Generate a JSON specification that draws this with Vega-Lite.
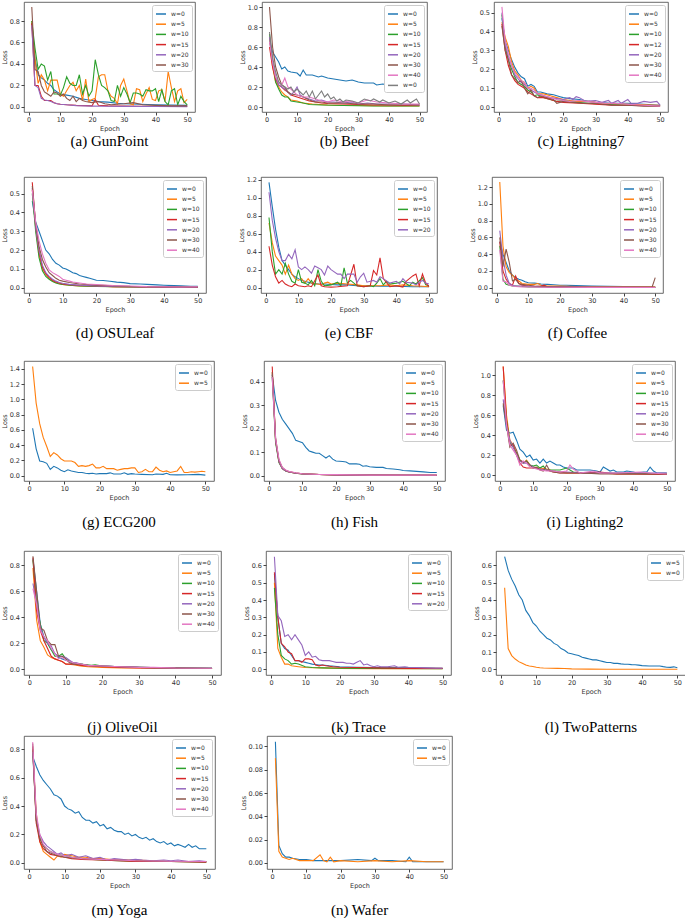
{
"$schema":"https://vega.github.io/schema/vega-lite/v6.json",
"background":"white",
"padding":{"left":0,"top":1,"right":0,"bottom":0},
"config":{
"font":"DejaVu Sans",
"view":{"stroke":"#444","strokeWidth":0.8},
"axis":{"labelFontSize":6.5,"titleFontSize":6.5,"titleFontWeight":"normal","tickSize":3,"labelPadding":1.5,"titlePadding":2,"grid":false,"domain":false,"tickColor":"#444","labelColor":"#333","titleColor":"#333"},
"legend":{"orient":"top-right","offset":3,"labelFontSize":6,"symbolType":"stroke","symbolSize":100,"symbolStrokeWidth":1.5,"rowPadding":1.2,"padding":3,"fillColor":"white","strokeColor":"#ccc","cornerRadius":2,"labelOffset":4,"labelColor":"#333"},
"title":{"font":"Liberation Serif","fontSize":15,"fontWeight":"normal","color":"black","anchor":"middle","frame":"group","subtitleFontSize":10}
},
"datasets":{
"a":[
{"s":"w=0","e":1,"l":0.78},{"s":"w=0","e":2,"l":0.45},{"s":"w=0","e":3,"l":0.3},{"s":"w=0","e":4,"l":0.27},{"s":"w=0","e":5,"l":0.25},{"s":"w=0","e":6,"l":0.22},{"s":"w=0","e":7,"l":0.2},{"s":"w=0","e":8,"l":0.16},{"s":"w=0","e":9,"l":0.14},{"s":"w=0","e":10,"l":0.12},{"s":"w=0","e":12,"l":0.11},{"s":"w=0","e":14,"l":0.1},{"s":"w=0","e":16,"l":0.08},{"s":"w=0","e":18,"l":0.07},{"s":"w=0","e":20,"l":0.06},{"s":"w=0","e":22,"l":0.05},{"s":"w=0","e":25,"l":0.045},{"s":"w=0","e":28,"l":0.035},{"s":"w=0","e":30,"l":0.03},{"s":"w=0","e":35,"l":0.025},{"s":"w=0","e":40,"l":0.02},{"s":"w=0","e":45,"l":0.018},{"s":"w=0","e":50,"l":0.015},
{"s":"w=5","e":1,"l":0.8},{"s":"w=5","e":2,"l":0.45},{"s":"w=5","e":3,"l":0.22},{"s":"w=5","e":4,"l":0.3},{"s":"w=5","e":5,"l":0.25},{"s":"w=5","e":6,"l":0.15},{"s":"w=5","e":7,"l":0.25},{"s":"w=5","e":8,"l":0.25},{"s":"w=5","e":9,"l":0.25},{"s":"w=5","e":10,"l":0.12},{"s":"w=5","e":11,"l":0.1},{"s":"w=5","e":12,"l":0.15},{"s":"w=5","e":13,"l":0.2},{"s":"w=5","e":14,"l":0.23},{"s":"w=5","e":15,"l":0.15},{"s":"w=5","e":16,"l":0.2},{"s":"w=5","e":17,"l":0.06},{"s":"w=5","e":18,"l":0.26},{"s":"w=5","e":19,"l":0.05},{"s":"w=5","e":20,"l":0.07},{"s":"w=5","e":21,"l":0.08},{"s":"w=5","e":22,"l":0.28},{"s":"w=5","e":23,"l":0.3},{"s":"w=5","e":24,"l":0.3},{"s":"w=5","e":25,"l":0.15},{"s":"w=5","e":26,"l":0.1},{"s":"w=5","e":27,"l":0.08},{"s":"w=5","e":28,"l":0.03},{"s":"w=5","e":29,"l":0.2},{"s":"w=5","e":30,"l":0.26},{"s":"w=5","e":31,"l":0.15},{"s":"w=5","e":32,"l":0.03},{"s":"w=5","e":33,"l":0.02},{"s":"w=5","e":34,"l":0.17},{"s":"w=5","e":35,"l":0.16},{"s":"w=5","e":36,"l":0.05},{"s":"w=5","e":37,"l":0.12},{"s":"w=5","e":38,"l":0.18},{"s":"w=5","e":39,"l":0.07},{"s":"w=5","e":40,"l":0.06},{"s":"w=5","e":41,"l":0.15},{"s":"w=5","e":42,"l":0.16},{"s":"w=5","e":43,"l":0.05},{"s":"w=5","e":44,"l":0.33},{"s":"w=5","e":45,"l":0.18},{"s":"w=5","e":46,"l":0.05},{"s":"w=5","e":47,"l":0.15},{"s":"w=5","e":48,"l":0.17},{"s":"w=5","e":49,"l":0.04},{"s":"w=5","e":50,"l":0.07},
{"s":"w=10","e":1,"l":0.8},{"s":"w=10","e":2,"l":0.55},{"s":"w=10","e":3,"l":0.35},{"s":"w=10","e":4,"l":0.4},{"s":"w=10","e":5,"l":0.38},{"s":"w=10","e":6,"l":0.25},{"s":"w=10","e":7,"l":0.33},{"s":"w=10","e":8,"l":0.12},{"s":"w=10","e":9,"l":0.12},{"s":"w=10","e":10,"l":0.11},{"s":"w=10","e":11,"l":0.18},{"s":"w=10","e":12,"l":0.28},{"s":"w=10","e":13,"l":0.22},{"s":"w=10","e":14,"l":0.2},{"s":"w=10","e":15,"l":0.2},{"s":"w=10","e":16,"l":0.3},{"s":"w=10","e":17,"l":0.12},{"s":"w=10","e":18,"l":0.2},{"s":"w=10","e":19,"l":0.1},{"s":"w=10","e":20,"l":0.15},{"s":"w=10","e":21,"l":0.44},{"s":"w=10","e":22,"l":0.3},{"s":"w=10","e":23,"l":0.2},{"s":"w=10","e":24,"l":0.18},{"s":"w=10","e":25,"l":0.15},{"s":"w=10","e":26,"l":0.06},{"s":"w=10","e":27,"l":0.05},{"s":"w=10","e":28,"l":0.2},{"s":"w=10","e":29,"l":0.1},{"s":"w=10","e":30,"l":0.18},{"s":"w=10","e":31,"l":0.12},{"s":"w=10","e":32,"l":0.04},{"s":"w=10","e":33,"l":0.13},{"s":"w=10","e":34,"l":0.13},{"s":"w=10","e":35,"l":0.12},{"s":"w=10","e":36,"l":0.1},{"s":"w=10","e":37,"l":0.16},{"s":"w=10","e":38,"l":0.15},{"s":"w=10","e":39,"l":0.15},{"s":"w=10","e":40,"l":0.17},{"s":"w=10","e":41,"l":0.05},{"s":"w=10","e":42,"l":0.16},{"s":"w=10","e":43,"l":0.05},{"s":"w=10","e":44,"l":0.02},{"s":"w=10","e":45,"l":0.15},{"s":"w=10","e":46,"l":0.17},{"s":"w=10","e":47,"l":0.02},{"s":"w=10","e":48,"l":0.1},{"s":"w=10","e":49,"l":0.05},{"s":"w=10","e":50,"l":0.02},
{"s":"w=15","e":1,"l":0.78},{"s":"w=15","e":2,"l":0.2},{"s":"w=15","e":3,"l":0.2},{"s":"w=15","e":4,"l":0.1},{"s":"w=15","e":5,"l":0.06},{"s":"w=15","e":6,"l":0.06},{"s":"w=15","e":7,"l":0.06},{"s":"w=15","e":8,"l":0.04},{"s":"w=15","e":9,"l":0.03},{"s":"w=15","e":10,"l":0.025},{"s":"w=15","e":12,"l":0.02},{"s":"w=15","e":15,"l":0.015},{"s":"w=15","e":18,"l":0.012},{"s":"w=15","e":20,"l":0.01},{"s":"w=15","e":21,"l":0.07},{"s":"w=15","e":22,"l":0.015},{"s":"w=15","e":25,"l":0.01},{"s":"w=15","e":30,"l":0.008},{"s":"w=15","e":35,"l":0.006},{"s":"w=15","e":40,"l":0.005},{"s":"w=15","e":45,"l":0.005},{"s":"w=15","e":50,"l":0.005},
{"s":"w=20","e":1,"l":0.76},{"s":"w=20","e":2,"l":0.2},{"s":"w=20","e":3,"l":0.18},{"s":"w=20","e":4,"l":0.08},{"s":"w=20","e":5,"l":0.065},{"s":"w=20","e":6,"l":0.06},{"s":"w=20","e":7,"l":0.05},{"s":"w=20","e":8,"l":0.04},{"s":"w=20","e":9,"l":0.03},{"s":"w=20","e":10,"l":0.025},{"s":"w=20","e":12,"l":0.02},{"s":"w=20","e":15,"l":0.012},{"s":"w=20","e":18,"l":0.01},{"s":"w=20","e":20,"l":0.008},{"s":"w=20","e":25,"l":0.006},{"s":"w=20","e":30,"l":0.005},{"s":"w=20","e":40,"l":0.004},{"s":"w=20","e":50,"l":0.003},
{"s":"w=30","e":1,"l":0.93},{"s":"w=30","e":2,"l":0.35},{"s":"w=30","e":3,"l":0.33},{"s":"w=30","e":4,"l":0.2},{"s":"w=30","e":5,"l":0.14},{"s":"w=30","e":6,"l":0.12},{"s":"w=30","e":7,"l":0.1},{"s":"w=30","e":8,"l":0.14},{"s":"w=30","e":9,"l":0.13},{"s":"w=30","e":10,"l":0.1},{"s":"w=30","e":11,"l":0.12},{"s":"w=30","e":12,"l":0.08},{"s":"w=30","e":13,"l":0.06},{"s":"w=30","e":14,"l":0.1},{"s":"w=30","e":15,"l":0.05},{"s":"w=30","e":16,"l":0.08},{"s":"w=30","e":17,"l":0.06},{"s":"w=30","e":18,"l":0.05},{"s":"w=30","e":20,"l":0.04},{"s":"w=30","e":22,"l":0.05},{"s":"w=30","e":24,"l":0.03},{"s":"w=30","e":26,"l":0.02},{"s":"w=30","e":28,"l":0.025},{"s":"w=30","e":30,"l":0.03},{"s":"w=30","e":33,"l":0.04},{"s":"w=30","e":36,"l":0.02},{"s":"w=30","e":40,"l":0.015},{"s":"w=30","e":45,"l":0.01},{"s":"w=30","e":50,"l":0.01}
],
"b":[
{"s":"w=0","e":1,"l":0.65},{"s":"w=0","e":2,"l":0.55},{"s":"w=0","e":3,"l":0.5},{"s":"w=0","e":4,"l":0.45},{"s":"w=0","e":5,"l":0.38},{"s":"w=0","e":6,"l":0.4},{"s":"w=0","e":7,"l":0.36},{"s":"w=0","e":8,"l":0.35},{"s":"w=0","e":10,"l":0.34},{"s":"w=0","e":11,"l":0.31},{"s":"w=0","e":12,"l":0.37},{"s":"w=0","e":13,"l":0.32},{"s":"w=0","e":15,"l":0.32},{"s":"w=0","e":17,"l":0.3},{"s":"w=0","e":18,"l":0.31},{"s":"w=0","e":19,"l":0.3},{"s":"w=0","e":20,"l":0.29},{"s":"w=0","e":22,"l":0.28},{"s":"w=0","e":24,"l":0.27},{"s":"w=0","e":26,"l":0.26},{"s":"w=0","e":28,"l":0.27},{"s":"w=0","e":30,"l":0.25},{"s":"w=0","e":32,"l":0.24},{"s":"w=0","e":35,"l":0.24},{"s":"w=0","e":36,"l":0.22},{"s":"w=0","e":38,"l":0.23},{"s":"w=0","e":40,"l":0.22},{"s":"w=0","e":42,"l":0.21},{"s":"w=0","e":43,"l":0.18},{"s":"w=0","e":44,"l":0.21},{"s":"w=0","e":45,"l":0.22},{"s":"w=0","e":46,"l":0.23},{"s":"w=0","e":47,"l":0.21},{"s":"w=0","e":48,"l":0.19},{"s":"w=0","e":50,"l":0.19},
{"s":"w=5","e":1,"l":0.7},{"s":"w=5","e":2,"l":0.4},{"s":"w=5","e":3,"l":0.25},{"s":"w=5","e":4,"l":0.2},{"s":"w=5","e":5,"l":0.15},{"s":"w=5","e":6,"l":0.12},{"s":"w=5","e":7,"l":0.1},{"s":"w=5","e":8,"l":0.07},{"s":"w=5","e":10,"l":0.06},{"s":"w=5","e":12,"l":0.04},{"s":"w=5","e":15,"l":0.03},{"s":"w=5","e":20,"l":0.02},{"s":"w=5","e":30,"l":0.015},{"s":"w=5","e":40,"l":0.01},{"s":"w=5","e":50,"l":0.01},
{"s":"w=10","e":1,"l":0.73},{"s":"w=10","e":2,"l":0.45},{"s":"w=10","e":3,"l":0.25},{"s":"w=10","e":4,"l":0.18},{"s":"w=10","e":5,"l":0.12},{"s":"w=10","e":6,"l":0.1},{"s":"w=10","e":7,"l":0.1},{"s":"w=10","e":8,"l":0.06},{"s":"w=10","e":10,"l":0.05},{"s":"w=10","e":12,"l":0.04},{"s":"w=10","e":14,"l":0.025},{"s":"w=10","e":18,"l":0.02},{"s":"w=10","e":25,"l":0.015},{"s":"w=10","e":35,"l":0.01},{"s":"w=10","e":50,"l":0.01},
{"s":"w=15","e":1,"l":0.6},{"s":"w=15","e":2,"l":0.4},{"s":"w=15","e":3,"l":0.28},{"s":"w=15","e":4,"l":0.22},{"s":"w=15","e":5,"l":0.2},{"s":"w=15","e":6,"l":0.17},{"s":"w=15","e":7,"l":0.15},{"s":"w=15","e":8,"l":0.12},{"s":"w=15","e":10,"l":0.1},{"s":"w=15","e":12,"l":0.08},{"s":"w=15","e":14,"l":0.06},{"s":"w=15","e":16,"l":0.05},{"s":"w=15","e":18,"l":0.04},{"s":"w=15","e":20,"l":0.035},{"s":"w=15","e":25,"l":0.03},{"s":"w=15","e":30,"l":0.025},{"s":"w=15","e":35,"l":0.02},{"s":"w=15","e":40,"l":0.02},{"s":"w=15","e":45,"l":0.015},{"s":"w=15","e":50,"l":0.02},
{"s":"w=20","e":1,"l":0.7},{"s":"w=20","e":2,"l":0.45},{"s":"w=20","e":3,"l":0.3},{"s":"w=20","e":4,"l":0.22},{"s":"w=20","e":5,"l":0.2},{"s":"w=20","e":6,"l":0.18},{"s":"w=20","e":7,"l":0.15},{"s":"w=20","e":8,"l":0.12},{"s":"w=20","e":9,"l":0.15},{"s":"w=20","e":10,"l":0.2},{"s":"w=20","e":11,"l":0.12},{"s":"w=20","e":12,"l":0.1},{"s":"w=20","e":14,"l":0.08},{"s":"w=20","e":16,"l":0.06},{"s":"w=20","e":18,"l":0.07},{"s":"w=20","e":20,"l":0.05},{"s":"w=20","e":22,"l":0.05},{"s":"w=20","e":25,"l":0.04},{"s":"w=20","e":28,"l":0.05},{"s":"w=20","e":30,"l":0.03},{"s":"w=20","e":33,"l":0.04},{"s":"w=20","e":36,"l":0.03},{"s":"w=20","e":40,"l":0.03},{"s":"w=20","e":45,"l":0.03},{"s":"w=20","e":50,"l":0.02},
{"s":"w=30","e":1,"l":1.0},{"s":"w=30","e":2,"l":0.6},{"s":"w=30","e":3,"l":0.4},{"s":"w=30","e":4,"l":0.3},{"s":"w=30","e":5,"l":0.22},{"s":"w=30","e":6,"l":0.2},{"s":"w=30","e":7,"l":0.15},{"s":"w=30","e":8,"l":0.13},{"s":"w=30","e":10,"l":0.12},{"s":"w=30","e":12,"l":0.1},{"s":"w=30","e":14,"l":0.07},{"s":"w=30","e":16,"l":0.05},{"s":"w=30","e":18,"l":0.05},{"s":"w=30","e":20,"l":0.04},{"s":"w=30","e":25,"l":0.04},{"s":"w=30","e":30,"l":0.03},{"s":"w=30","e":35,"l":0.03},{"s":"w=30","e":40,"l":0.02},{"s":"w=30","e":45,"l":0.02},{"s":"w=30","e":50,"l":0.02},
{"s":"w=40","e":1,"l":0.65},{"s":"w=40","e":2,"l":0.45},{"s":"w=40","e":3,"l":0.3},{"s":"w=40","e":4,"l":0.25},{"s":"w=40","e":5,"l":0.22},{"s":"w=40","e":6,"l":0.29},{"s":"w=40","e":7,"l":0.2},{"s":"w=40","e":8,"l":0.18},{"s":"w=40","e":9,"l":0.15},{"s":"w=40","e":10,"l":0.12},{"s":"w=40","e":12,"l":0.1},{"s":"w=40","e":14,"l":0.1},{"s":"w=40","e":16,"l":0.08},{"s":"w=40","e":18,"l":0.06},{"s":"w=40","e":20,"l":0.05},{"s":"w=40","e":22,"l":0.07},{"s":"w=40","e":25,"l":0.05},{"s":"w=40","e":27,"l":0.06},{"s":"w=40","e":30,"l":0.04},{"s":"w=40","e":33,"l":0.07},{"s":"w=40","e":36,"l":0.05},{"s":"w=40","e":40,"l":0.04},{"s":"w=40","e":45,"l":0.03},{"s":"w=40","e":50,"l":0.03},
{"s":"w=0 ","e":1,"l":0.75},{"s":"w=0 ","e":2,"l":0.5},{"s":"w=0 ","e":3,"l":0.35},{"s":"w=0 ","e":4,"l":0.25},{"s":"w=0 ","e":5,"l":0.22},{"s":"w=0 ","e":6,"l":0.2},{"s":"w=0 ","e":7,"l":0.18},{"s":"w=0 ","e":8,"l":0.2},{"s":"w=0 ","e":9,"l":0.15},{"s":"w=0 ","e":10,"l":0.18},{"s":"w=0 ","e":11,"l":0.15},{"s":"w=0 ","e":12,"l":0.12},{"s":"w=0 ","e":13,"l":0.16},{"s":"w=0 ","e":14,"l":0.1},{"s":"w=0 ","e":15,"l":0.16},{"s":"w=0 ","e":16,"l":0.08},{"s":"w=0 ","e":17,"l":0.12},{"s":"w=0 ","e":18,"l":0.16},{"s":"w=0 ","e":19,"l":0.1},{"s":"w=0 ","e":20,"l":0.13},{"s":"w=0 ","e":21,"l":0.08},{"s":"w=0 ","e":22,"l":0.1},{"s":"w=0 ","e":23,"l":0.06},{"s":"w=0 ","e":24,"l":0.08},{"s":"w=0 ","e":25,"l":0.05},{"s":"w=0 ","e":26,"l":0.07},{"s":"w=0 ","e":28,"l":0.06},{"s":"w=0 ","e":30,"l":0.04},{"s":"w=0 ","e":32,"l":0.08},{"s":"w=0 ","e":34,"l":0.06},{"s":"w=0 ","e":35,"l":0.08},{"s":"w=0 ","e":37,"l":0.05},{"s":"w=0 ","e":38,"l":0.07},{"s":"w=0 ","e":40,"l":0.04},{"s":"w=0 ","e":42,"l":0.06},{"s":"w=0 ","e":44,"l":0.03},{"s":"w=0 ","e":46,"l":0.07},{"s":"w=0 ","e":47,"l":0.04},{"s":"w=0 ","e":49,"l":0.08},{"s":"w=0 ","e":50,"l":0.03}
],
"c":[
{"s":"w=0","e":1,"l":0.47},{"s":"w=0","e":2,"l":0.35},{"s":"w=0","e":3,"l":0.3},{"s":"w=0","e":4,"l":0.25},{"s":"w=0","e":5,"l":0.21},{"s":"w=0","e":6,"l":0.18},{"s":"w=0","e":7,"l":0.16},{"s":"w=0","e":8,"l":0.15},{"s":"w=0","e":9,"l":0.11},{"s":"w=0","e":10,"l":0.12},{"s":"w=0","e":11,"l":0.11},{"s":"w=0","e":12,"l":0.08},{"s":"w=0","e":13,"l":0.08},{"s":"w=0","e":15,"l":0.07},{"s":"w=0","e":17,"l":0.065},{"s":"w=0","e":19,"l":0.055},{"s":"w=0","e":20,"l":0.05},{"s":"w=0","e":22,"l":0.045},{"s":"w=0","e":25,"l":0.04},{"s":"w=0","e":28,"l":0.03},{"s":"w=0","e":30,"l":0.025},{"s":"w=0","e":35,"l":0.02},{"s":"w=0","e":40,"l":0.02},{"s":"w=0","e":45,"l":0.015},{"s":"w=0","e":50,"l":0.01},
{"s":"w=5","e":1,"l":0.45},{"s":"w=5","e":2,"l":0.37},{"s":"w=5","e":3,"l":0.32},{"s":"w=5","e":4,"l":0.24},{"s":"w=5","e":5,"l":0.19},{"s":"w=5","e":6,"l":0.17},{"s":"w=5","e":7,"l":0.14},{"s":"w=5","e":8,"l":0.13},{"s":"w=5","e":9,"l":0.1},{"s":"w=5","e":10,"l":0.11},{"s":"w=5","e":11,"l":0.1},{"s":"w=5","e":12,"l":0.07},{"s":"w=5","e":14,"l":0.07},{"s":"w=5","e":16,"l":0.06},{"s":"w=5","e":18,"l":0.05},{"s":"w=5","e":20,"l":0.04},{"s":"w=5","e":24,"l":0.03},{"s":"w=5","e":28,"l":0.03},{"s":"w=5","e":32,"l":0.02},{"s":"w=5","e":40,"l":0.015},{"s":"w=5","e":50,"l":0.01},
{"s":"w=10","e":1,"l":0.49},{"s":"w=10","e":2,"l":0.32},{"s":"w=10","e":3,"l":0.25},{"s":"w=10","e":4,"l":0.2},{"s":"w=10","e":5,"l":0.16},{"s":"w=10","e":6,"l":0.13},{"s":"w=10","e":7,"l":0.12},{"s":"w=10","e":8,"l":0.11},{"s":"w=10","e":9,"l":0.09},{"s":"w=10","e":10,"l":0.08},{"s":"w=10","e":11,"l":0.06},{"s":"w=10","e":12,"l":0.065},{"s":"w=10","e":14,"l":0.05},{"s":"w=10","e":16,"l":0.04},{"s":"w=10","e":18,"l":0.03},{"s":"w=10","e":20,"l":0.035},{"s":"w=10","e":24,"l":0.025},{"s":"w=10","e":28,"l":0.02},{"s":"w=10","e":32,"l":0.015},{"s":"w=10","e":40,"l":0.01},{"s":"w=10","e":50,"l":0.008},
{"s":"w=12","e":1,"l":0.44},{"s":"w=12","e":2,"l":0.3},{"s":"w=12","e":3,"l":0.22},{"s":"w=12","e":4,"l":0.17},{"s":"w=12","e":5,"l":0.14},{"s":"w=12","e":6,"l":0.12},{"s":"w=12","e":7,"l":0.11},{"s":"w=12","e":8,"l":0.1},{"s":"w=12","e":9,"l":0.08},{"s":"w=12","e":10,"l":0.07},{"s":"w=12","e":11,"l":0.06},{"s":"w=12","e":12,"l":0.05},{"s":"w=12","e":14,"l":0.05},{"s":"w=12","e":16,"l":0.04},{"s":"w=12","e":18,"l":0.03},{"s":"w=12","e":20,"l":0.025},{"s":"w=12","e":25,"l":0.02},{"s":"w=12","e":30,"l":0.015},{"s":"w=12","e":35,"l":0.01},{"s":"w=12","e":40,"l":0.01},{"s":"w=12","e":50,"l":0.005},
{"s":"w=20","e":1,"l":0.5},{"s":"w=20","e":2,"l":0.33},{"s":"w=20","e":3,"l":0.27},{"s":"w=20","e":4,"l":0.22},{"s":"w=20","e":5,"l":0.17},{"s":"w=20","e":6,"l":0.15},{"s":"w=20","e":7,"l":0.13},{"s":"w=20","e":8,"l":0.12},{"s":"w=20","e":9,"l":0.1},{"s":"w=20","e":10,"l":0.09},{"s":"w=20","e":11,"l":0.08},{"s":"w=20","e":12,"l":0.07},{"s":"w=20","e":14,"l":0.06},{"s":"w=20","e":16,"l":0.05},{"s":"w=20","e":18,"l":0.045},{"s":"w=20","e":20,"l":0.04},{"s":"w=20","e":22,"l":0.05},{"s":"w=20","e":23,"l":0.04},{"s":"w=20","e":24,"l":0.055},{"s":"w=20","e":25,"l":0.05},{"s":"w=20","e":27,"l":0.03},{"s":"w=20","e":30,"l":0.035},{"s":"w=20","e":32,"l":0.025},{"s":"w=20","e":34,"l":0.035},{"s":"w=20","e":35,"l":0.02},{"s":"w=20","e":37,"l":0.035},{"s":"w=20","e":38,"l":0.02},{"s":"w=20","e":40,"l":0.04},{"s":"w=20","e":41,"l":0.02},{"s":"w=20","e":43,"l":0.02},{"s":"w=20","e":45,"l":0.03},{"s":"w=20","e":47,"l":0.025},{"s":"w=20","e":49,"l":0.03},{"s":"w=20","e":50,"l":0.01},
{"s":"w=30","e":1,"l":0.43},{"s":"w=30","e":2,"l":0.3},{"s":"w=30","e":3,"l":0.25},{"s":"w=30","e":4,"l":0.17},{"s":"w=30","e":5,"l":0.15},{"s":"w=30","e":6,"l":0.13},{"s":"w=30","e":7,"l":0.14},{"s":"w=30","e":8,"l":0.1},{"s":"w=30","e":9,"l":0.07},{"s":"w=30","e":10,"l":0.09},{"s":"w=30","e":11,"l":0.06},{"s":"w=30","e":12,"l":0.05},{"s":"w=30","e":13,"l":0.06},{"s":"w=30","e":15,"l":0.05},{"s":"w=30","e":17,"l":0.04},{"s":"w=30","e":18,"l":0.02},{"s":"w=30","e":20,"l":0.03},{"s":"w=30","e":23,"l":0.025},{"s":"w=30","e":26,"l":0.02},{"s":"w=30","e":30,"l":0.02},{"s":"w=30","e":35,"l":0.01},{"s":"w=30","e":40,"l":0.01},{"s":"w=30","e":45,"l":0.005},{"s":"w=30","e":50,"l":0.005},
{"s":"w=40","e":1,"l":0.53},{"s":"w=40","e":2,"l":0.35},{"s":"w=40","e":3,"l":0.28},{"s":"w=40","e":4,"l":0.22},{"s":"w=40","e":5,"l":0.18},{"s":"w=40","e":6,"l":0.16},{"s":"w=40","e":7,"l":0.14},{"s":"w=40","e":8,"l":0.13},{"s":"w=40","e":9,"l":0.1},{"s":"w=40","e":10,"l":0.1},{"s":"w=40","e":11,"l":0.09},{"s":"w=40","e":12,"l":0.07},{"s":"w=40","e":14,"l":0.06},{"s":"w=40","e":16,"l":0.05},{"s":"w=40","e":18,"l":0.04},{"s":"w=40","e":20,"l":0.035},{"s":"w=40","e":22,"l":0.03},{"s":"w=40","e":25,"l":0.035},{"s":"w=40","e":27,"l":0.03},{"s":"w=40","e":30,"l":0.025},{"s":"w=40","e":33,"l":0.02},{"s":"w=40","e":36,"l":0.02},{"s":"w=40","e":40,"l":0.015},{"s":"w=40","e":45,"l":0.01},{"s":"w=40","e":50,"l":0.005}
],
"d":[
{"s":"w=0","e":1,"l":0.46},{"s":"w=0","e":2,"l":0.35},{"s":"w=0","e":3,"l":0.3},{"s":"w=0","e":4,"l":0.25},{"s":"w=0","e":5,"l":0.2},{"s":"w=0","e":6,"l":0.18},{"s":"w=0","e":7,"l":0.15},{"s":"w=0","e":8,"l":0.13},{"s":"w=0","e":9,"l":0.12},{"s":"w=0","e":10,"l":0.105},{"s":"w=0","e":11,"l":0.1},{"s":"w=0","e":12,"l":0.09},{"s":"w=0","e":13,"l":0.08},{"s":"w=0","e":14,"l":0.075},{"s":"w=0","e":15,"l":0.065},{"s":"w=0","e":16,"l":0.06},{"s":"w=0","e":17,"l":0.055},{"s":"w=0","e":18,"l":0.05},{"s":"w=0","e":19,"l":0.045},{"s":"w=0","e":20,"l":0.04},{"s":"w=0","e":22,"l":0.038},{"s":"w=0","e":24,"l":0.034},{"s":"w=0","e":26,"l":0.03},{"s":"w=0","e":28,"l":0.027},{"s":"w=0","e":30,"l":0.022},{"s":"w=0","e":33,"l":0.02},{"s":"w=0","e":35,"l":0.018},{"s":"w=0","e":38,"l":0.015},{"s":"w=0","e":40,"l":0.013},{"s":"w=0","e":43,"l":0.011},{"s":"w=0","e":45,"l":0.01},{"s":"w=0","e":48,"l":0.008},{"s":"w=0","e":50,"l":0.007},
{"s":"w=5","e":1,"l":0.52},{"s":"w=5","e":2,"l":0.32},{"s":"w=5","e":3,"l":0.18},{"s":"w=5","e":4,"l":0.1},{"s":"w=5","e":5,"l":0.07},{"s":"w=5","e":6,"l":0.05},{"s":"w=5","e":7,"l":0.035},{"s":"w=5","e":8,"l":0.028},{"s":"w=5","e":9,"l":0.022},{"s":"w=5","e":10,"l":0.018},{"s":"w=5","e":12,"l":0.014},{"s":"w=5","e":15,"l":0.01},{"s":"w=5","e":20,"l":0.008},{"s":"w=5","e":25,"l":0.006},{"s":"w=5","e":30,"l":0.004},{"s":"w=5","e":40,"l":0.003},{"s":"w=5","e":50,"l":0.002},
{"s":"w=10","e":1,"l":0.5},{"s":"w=10","e":2,"l":0.3},{"s":"w=10","e":3,"l":0.16},{"s":"w=10","e":4,"l":0.09},{"s":"w=10","e":5,"l":0.06},{"s":"w=10","e":6,"l":0.045},{"s":"w=10","e":7,"l":0.033},{"s":"w=10","e":8,"l":0.025},{"s":"w=10","e":9,"l":0.02},{"s":"w=10","e":10,"l":0.017},{"s":"w=10","e":12,"l":0.013},{"s":"w=10","e":15,"l":0.01},{"s":"w=10","e":20,"l":0.007},{"s":"w=10","e":25,"l":0.005},{"s":"w=10","e":30,"l":0.004},{"s":"w=10","e":40,"l":0.003},{"s":"w=10","e":50,"l":0.002},
{"s":"w=15","e":1,"l":0.56},{"s":"w=15","e":2,"l":0.33},{"s":"w=15","e":3,"l":0.19},{"s":"w=15","e":4,"l":0.11},{"s":"w=15","e":5,"l":0.075},{"s":"w=15","e":6,"l":0.055},{"s":"w=15","e":7,"l":0.04},{"s":"w=15","e":8,"l":0.03},{"s":"w=15","e":9,"l":0.025},{"s":"w=15","e":10,"l":0.02},{"s":"w=15","e":12,"l":0.016},{"s":"w=15","e":15,"l":0.012},{"s":"w=15","e":20,"l":0.009},{"s":"w=15","e":25,"l":0.006},{"s":"w=15","e":30,"l":0.005},{"s":"w=15","e":40,"l":0.003},{"s":"w=15","e":50,"l":0.002},
{"s":"w=20","e":1,"l":0.53},{"s":"w=20","e":2,"l":0.32},{"s":"w=20","e":3,"l":0.2},{"s":"w=20","e":4,"l":0.12},{"s":"w=20","e":5,"l":0.08},{"s":"w=20","e":6,"l":0.06},{"s":"w=20","e":7,"l":0.045},{"s":"w=20","e":8,"l":0.035},{"s":"w=20","e":9,"l":0.028},{"s":"w=20","e":10,"l":0.024},{"s":"w=20","e":12,"l":0.018},{"s":"w=20","e":15,"l":0.014},{"s":"w=20","e":20,"l":0.01},{"s":"w=20","e":25,"l":0.007},{"s":"w=20","e":30,"l":0.005},{"s":"w=20","e":40,"l":0.004},{"s":"w=20","e":50,"l":0.003},
{"s":"w=30","e":1,"l":0.54},{"s":"w=30","e":2,"l":0.34},{"s":"w=30","e":3,"l":0.22},{"s":"w=30","e":4,"l":0.15},{"s":"w=30","e":5,"l":0.11},{"s":"w=30","e":6,"l":0.08},{"s":"w=30","e":7,"l":0.065},{"s":"w=30","e":8,"l":0.05},{"s":"w=30","e":9,"l":0.04},{"s":"w=30","e":10,"l":0.035},{"s":"w=30","e":12,"l":0.028},{"s":"w=30","e":15,"l":0.02},{"s":"w=30","e":20,"l":0.014},{"s":"w=30","e":25,"l":0.01},{"s":"w=30","e":30,"l":0.007},{"s":"w=30","e":40,"l":0.005},{"s":"w=30","e":50,"l":0.004},
{"s":"w=40","e":1,"l":0.52},{"s":"w=40","e":2,"l":0.35},{"s":"w=40","e":3,"l":0.25},{"s":"w=40","e":4,"l":0.18},{"s":"w=40","e":5,"l":0.13},{"s":"w=40","e":6,"l":0.095},{"s":"w=40","e":7,"l":0.08},{"s":"w=40","e":8,"l":0.07},{"s":"w=40","e":9,"l":0.06},{"s":"w=40","e":10,"l":0.045},{"s":"w=40","e":11,"l":0.04},{"s":"w=40","e":12,"l":0.035},{"s":"w=40","e":13,"l":0.03},{"s":"w=40","e":15,"l":0.025},{"s":"w=40","e":17,"l":0.02},{"s":"w=40","e":20,"l":0.017},{"s":"w=40","e":25,"l":0.012},{"s":"w=40","e":30,"l":0.009},{"s":"w=40","e":35,"l":0.006},{"s":"w=40","e":40,"l":0.005},{"s":"w=40","e":45,"l":0.004},{"s":"w=40","e":50,"l":0.005}
],
"e":[
{"s":"w=0","e":1,"l":1.17},{"s":"w=0","e":2,"l":0.9},{"s":"w=0","e":3,"l":0.65},{"s":"w=0","e":4,"l":0.45},{"s":"w=0","e":5,"l":0.3},{"s":"w=0","e":6,"l":0.25},{"s":"w=0","e":7,"l":0.2},{"s":"w=0","e":8,"l":0.15},{"s":"w=0","e":9,"l":0.12},{"s":"w=0","e":10,"l":0.1},{"s":"w=0","e":11,"l":0.08},{"s":"w=0","e":12,"l":0.07},{"s":"w=0","e":13,"l":0.06},{"s":"w=0","e":14,"l":0.05},{"s":"w=0","e":16,"l":0.04},{"s":"w=0","e":18,"l":0.04},{"s":"w=0","e":20,"l":0.035},{"s":"w=0","e":22,"l":0.03},{"s":"w=0","e":25,"l":0.03},{"s":"w=0","e":28,"l":0.02},{"s":"w=0","e":30,"l":0.02},{"s":"w=0","e":35,"l":0.015},{"s":"w=0","e":40,"l":0.015},{"s":"w=0","e":45,"l":0.01},{"s":"w=0","e":50,"l":0.01},
{"s":"w=5","e":1,"l":0.72},{"s":"w=5","e":2,"l":0.5},{"s":"w=5","e":3,"l":0.35},{"s":"w=5","e":4,"l":0.3},{"s":"w=5","e":5,"l":0.25},{"s":"w=5","e":6,"l":0.15},{"s":"w=5","e":7,"l":0.25},{"s":"w=5","e":8,"l":0.15},{"s":"w=5","e":9,"l":0.1},{"s":"w=5","e":10,"l":0.08},{"s":"w=5","e":11,"l":0.1},{"s":"w=5","e":12,"l":0.05},{"s":"w=5","e":13,"l":0.1},{"s":"w=5","e":14,"l":0.05},{"s":"w=5","e":15,"l":0.04},{"s":"w=5","e":16,"l":0.04},{"s":"w=5","e":17,"l":0.03},{"s":"w=5","e":18,"l":0.05},{"s":"w=5","e":19,"l":0.06},{"s":"w=5","e":20,"l":0.04},{"s":"w=5","e":22,"l":0.05},{"s":"w=5","e":25,"l":0.04},{"s":"w=5","e":28,"l":0.03},{"s":"w=5","e":30,"l":0.02},{"s":"w=5","e":32,"l":0.02},{"s":"w=5","e":35,"l":0.02},{"s":"w=5","e":38,"l":0.03},{"s":"w=5","e":40,"l":0.02},{"s":"w=5","e":42,"l":0.03},{"s":"w=5","e":45,"l":0.02},{"s":"w=5","e":48,"l":0.015},{"s":"w=5","e":50,"l":0.01},
{"s":"w=10","e":1,"l":0.78},{"s":"w=10","e":2,"l":0.4},{"s":"w=10","e":3,"l":0.15},{"s":"w=10","e":4,"l":0.2},{"s":"w=10","e":5,"l":0.15},{"s":"w=10","e":6,"l":0.27},{"s":"w=10","e":7,"l":0.15},{"s":"w=10","e":8,"l":0.07},{"s":"w=10","e":9,"l":0.05},{"s":"w=10","e":10,"l":0.2},{"s":"w=10","e":11,"l":0.06},{"s":"w=10","e":12,"l":0.05},{"s":"w=10","e":13,"l":0.03},{"s":"w=10","e":14,"l":0.08},{"s":"w=10","e":15,"l":0.02},{"s":"w=10","e":16,"l":0.2},{"s":"w=10","e":17,"l":0.07},{"s":"w=10","e":18,"l":0.02},{"s":"w=10","e":20,"l":0.03},{"s":"w=10","e":22,"l":0.06},{"s":"w=10","e":23,"l":0.02},{"s":"w=10","e":24,"l":0.22},{"s":"w=10","e":25,"l":0.05},{"s":"w=10","e":26,"l":0.08},{"s":"w=10","e":28,"l":0.02},{"s":"w=10","e":30,"l":0.01},{"s":"w=10","e":32,"l":0.02},{"s":"w=10","e":33,"l":0.01},{"s":"w=10","e":34,"l":0.05},{"s":"w=10","e":35,"l":0.1},{"s":"w=10","e":36,"l":0.03},{"s":"w=10","e":37,"l":0.07},{"s":"w=10","e":38,"l":0.04},{"s":"w=10","e":40,"l":0.05},{"s":"w=10","e":42,"l":0.07},{"s":"w=10","e":44,"l":0.02},{"s":"w=10","e":45,"l":0.06},{"s":"w=10","e":46,"l":0.04},{"s":"w=10","e":48,"l":0.11},{"s":"w=10","e":49,"l":0.03},{"s":"w=10","e":50,"l":0.02},
{"s":"w=15","e":1,"l":0.46},{"s":"w=15","e":2,"l":0.25},{"s":"w=15","e":3,"l":0.12},{"s":"w=15","e":4,"l":0.05},{"s":"w=15","e":5,"l":0.08},{"s":"w=15","e":6,"l":0.04},{"s":"w=15","e":7,"l":0.02},{"s":"w=15","e":8,"l":0.01},{"s":"w=15","e":9,"l":0.04},{"s":"w=15","e":10,"l":0.02},{"s":"w=15","e":12,"l":0.01},{"s":"w=15","e":13,"l":0.02},{"s":"w=15","e":14,"l":0.01},{"s":"w=15","e":16,"l":0.14},{"s":"w=15","e":17,"l":0.02},{"s":"w=15","e":18,"l":0.01},{"s":"w=15","e":20,"l":0.005},{"s":"w=15","e":22,"l":0.01},{"s":"w=15","e":25,"l":0.02},{"s":"w=15","e":27,"l":0.26},{"s":"w=15","e":28,"l":0.02},{"s":"w=15","e":30,"l":0.01},{"s":"w=15","e":32,"l":0.02},{"s":"w=15","e":33,"l":0.19},{"s":"w=15","e":34,"l":0.14},{"s":"w=15","e":35,"l":0.33},{"s":"w=15","e":36,"l":0.1},{"s":"w=15","e":38,"l":0.01},{"s":"w=15","e":40,"l":0.02},{"s":"w=15","e":42,"l":0.005},{"s":"w=15","e":43,"l":0.07},{"s":"w=15","e":45,"l":0.13},{"s":"w=15","e":46,"l":0.15},{"s":"w=15","e":47,"l":0.02},{"s":"w=15","e":48,"l":0.15},{"s":"w=15","e":49,"l":0.05},{"s":"w=15","e":50,"l":0.01},
{"s":"w=20","e":1,"l":1.06},{"s":"w=20","e":2,"l":0.75},{"s":"w=20","e":3,"l":0.55},{"s":"w=20","e":4,"l":0.4},{"s":"w=20","e":5,"l":0.3},{"s":"w=20","e":6,"l":0.3},{"s":"w=20","e":7,"l":0.37},{"s":"w=20","e":8,"l":0.32},{"s":"w=20","e":9,"l":0.42},{"s":"w=20","e":10,"l":0.23},{"s":"w=20","e":11,"l":0.2},{"s":"w=20","e":12,"l":0.23},{"s":"w=20","e":13,"l":0.2},{"s":"w=20","e":14,"l":0.16},{"s":"w=20","e":15,"l":0.24},{"s":"w=20","e":16,"l":0.22},{"s":"w=20","e":17,"l":0.2},{"s":"w=20","e":18,"l":0.14},{"s":"w=20","e":19,"l":0.24},{"s":"w=20","e":20,"l":0.2},{"s":"w=20","e":22,"l":0.15},{"s":"w=20","e":23,"l":0.15},{"s":"w=20","e":24,"l":0.1},{"s":"w=20","e":25,"l":0.15},{"s":"w=20","e":27,"l":0.15},{"s":"w=20","e":28,"l":0.06},{"s":"w=20","e":29,"l":0.12},{"s":"w=20","e":30,"l":0.16},{"s":"w=20","e":31,"l":0.06},{"s":"w=20","e":33,"l":0.08},{"s":"w=20","e":34,"l":0.06},{"s":"w=20","e":35,"l":0.12},{"s":"w=20","e":36,"l":0.1},{"s":"w=20","e":38,"l":0.05},{"s":"w=20","e":40,"l":0.07},{"s":"w=20","e":41,"l":0.04},{"s":"w=20","e":42,"l":0.1},{"s":"w=20","e":43,"l":0.06},{"s":"w=20","e":45,"l":0.05},{"s":"w=20","e":46,"l":0.03},{"s":"w=20","e":47,"l":0.06},{"s":"w=20","e":48,"l":0.08},{"s":"w=20","e":49,"l":0.05},{"s":"w=20","e":50,"l":0.04}
],
"f":[
{"s":"w=0","e":1,"l":0.55},{"s":"w=0","e":2,"l":0.4},{"s":"w=0","e":3,"l":0.3},{"s":"w=0","e":4,"l":0.2},{"s":"w=0","e":5,"l":0.15},{"s":"w=0","e":6,"l":0.12},{"s":"w=0","e":7,"l":0.1},{"s":"w=0","e":8,"l":0.09},{"s":"w=0","e":9,"l":0.07},{"s":"w=0","e":10,"l":0.06},{"s":"w=0","e":12,"l":0.055},{"s":"w=0","e":14,"l":0.045},{"s":"w=0","e":16,"l":0.04},{"s":"w=0","e":18,"l":0.035},{"s":"w=0","e":20,"l":0.03},{"s":"w=0","e":22,"l":0.03},{"s":"w=0","e":25,"l":0.025},{"s":"w=0","e":30,"l":0.02},{"s":"w=0","e":40,"l":0.015},{"s":"w=0","e":50,"l":0.01},
{"s":"w=5","e":1,"l":1.26},{"s":"w=5","e":2,"l":0.5},{"s":"w=5","e":3,"l":0.25},{"s":"w=5","e":4,"l":0.18},{"s":"w=5","e":5,"l":0.15},{"s":"w=5","e":6,"l":0.1},{"s":"w=5","e":7,"l":0.08},{"s":"w=5","e":8,"l":0.05},{"s":"w=5","e":10,"l":0.04},{"s":"w=5","e":12,"l":0.04},{"s":"w=5","e":13,"l":0.05},{"s":"w=5","e":14,"l":0.03},{"s":"w=5","e":16,"l":0.02},{"s":"w=5","e":20,"l":0.02},{"s":"w=5","e":25,"l":0.015},{"s":"w=5","e":30,"l":0.015},{"s":"w=5","e":40,"l":0.01},{"s":"w=5","e":50,"l":0.01},
{"s":"w=10","e":1,"l":0.5},{"s":"w=10","e":2,"l":0.1},{"s":"w=10","e":3,"l":0.04},{"s":"w=10","e":4,"l":0.03},{"s":"w=10","e":5,"l":0.02},{"s":"w=10","e":6,"l":0.02},{"s":"w=10","e":8,"l":0.015},{"s":"w=10","e":10,"l":0.01},{"s":"w=10","e":15,"l":0.008},{"s":"w=10","e":20,"l":0.005},{"s":"w=10","e":30,"l":0.004},{"s":"w=10","e":50,"l":0.003},
{"s":"w=15","e":1,"l":0.55},{"s":"w=15","e":2,"l":0.2},{"s":"w=15","e":3,"l":0.1},{"s":"w=15","e":4,"l":0.05},{"s":"w=15","e":5,"l":0.03},{"s":"w=15","e":6,"l":0.14},{"s":"w=15","e":7,"l":0.05},{"s":"w=15","e":8,"l":0.03},{"s":"w=15","e":10,"l":0.02},{"s":"w=15","e":12,"l":0.015},{"s":"w=15","e":14,"l":0.02},{"s":"w=15","e":15,"l":0.03},{"s":"w=15","e":16,"l":0.01},{"s":"w=15","e":20,"l":0.008},{"s":"w=15","e":30,"l":0.005},{"s":"w=15","e":40,"l":0.004},{"s":"w=15","e":50,"l":0.003},
{"s":"w=20","e":1,"l":0.68},{"s":"w=20","e":2,"l":0.35},{"s":"w=20","e":3,"l":0.15},{"s":"w=20","e":4,"l":0.05},{"s":"w=20","e":5,"l":0.03},{"s":"w=20","e":6,"l":0.02},{"s":"w=20","e":8,"l":0.02},{"s":"w=20","e":10,"l":0.015},{"s":"w=20","e":15,"l":0.01},{"s":"w=20","e":20,"l":0.008},{"s":"w=20","e":30,"l":0.005},{"s":"w=20","e":50,"l":0.004},
{"s":"w=30","e":1,"l":0.6},{"s":"w=30","e":2,"l":0.25},{"s":"w=30","e":3,"l":0.46},{"s":"w=30","e":4,"l":0.3},{"s":"w=30","e":5,"l":0.08},{"s":"w=30","e":6,"l":0.1},{"s":"w=30","e":7,"l":0.05},{"s":"w=30","e":8,"l":0.04},{"s":"w=30","e":10,"l":0.03},{"s":"w=30","e":12,"l":0.02},{"s":"w=30","e":15,"l":0.015},{"s":"w=30","e":20,"l":0.01},{"s":"w=30","e":30,"l":0.008},{"s":"w=30","e":40,"l":0.006},{"s":"w=30","e":49,"l":0.005},{"s":"w=30","e":50,"l":0.12},
{"s":"w=40","e":1,"l":0.45},{"s":"w=40","e":2,"l":0.08},{"s":"w=40","e":3,"l":0.07},{"s":"w=40","e":4,"l":0.03},{"s":"w=40","e":5,"l":0.02},{"s":"w=40","e":6,"l":0.015},{"s":"w=40","e":8,"l":0.01},{"s":"w=40","e":10,"l":0.008},{"s":"w=40","e":15,"l":0.006},{"s":"w=40","e":20,"l":0.005},{"s":"w=40","e":30,"l":0.004},{"s":"w=40","e":50,"l":0.003}
],
"g":[
{"s":"w=0","e":1,"l":0.62},{"s":"w=0","e":2,"l":0.35},{"s":"w=0","e":3,"l":0.19},{"s":"w=0","e":4,"l":0.18},{"s":"w=0","e":5,"l":0.16},{"s":"w=0","e":6,"l":0.08},{"s":"w=0","e":7,"l":0.12},{"s":"w=0","e":8,"l":0.1},{"s":"w=0","e":9,"l":0.07},{"s":"w=0","e":10,"l":0.05},{"s":"w=0","e":11,"l":0.075},{"s":"w=0","e":12,"l":0.06},{"s":"w=0","e":13,"l":0.05},{"s":"w=0","e":14,"l":0.04},{"s":"w=0","e":15,"l":0.04},{"s":"w=0","e":16,"l":0.03},{"s":"w=0","e":17,"l":0.025},{"s":"w=0","e":18,"l":0.03},{"s":"w=0","e":19,"l":0.02},{"s":"w=0","e":20,"l":0.025},{"s":"w=0","e":22,"l":0.025},{"s":"w=0","e":23,"l":0.035},{"s":"w=0","e":24,"l":0.02},{"s":"w=0","e":26,"l":0.02},{"s":"w=0","e":27,"l":0.035},{"s":"w=0","e":28,"l":0.015},{"s":"w=0","e":29,"l":0.025},{"s":"w=0","e":30,"l":0.02},{"s":"w=0","e":32,"l":0.015},{"s":"w=0","e":35,"l":0.01},{"s":"w=0","e":36,"l":0.02},{"s":"w=0","e":38,"l":0.015},{"s":"w=0","e":39,"l":0.03},{"s":"w=0","e":40,"l":0.01},{"s":"w=0","e":42,"l":0.008},{"s":"w=0","e":45,"l":0.01},{"s":"w=0","e":48,"l":0.015},{"s":"w=0","e":50,"l":0.005},
{"s":"w=5","e":1,"l":1.43},{"s":"w=5","e":2,"l":0.95},{"s":"w=5","e":3,"l":0.68},{"s":"w=5","e":4,"l":0.5},{"s":"w=5","e":5,"l":0.38},{"s":"w=5","e":6,"l":0.25},{"s":"w=5","e":7,"l":0.3},{"s":"w=5","e":8,"l":0.27},{"s":"w=5","e":9,"l":0.22},{"s":"w=5","e":10,"l":0.19},{"s":"w=5","e":11,"l":0.19},{"s":"w=5","e":12,"l":0.19},{"s":"w=5","e":13,"l":0.17},{"s":"w=5","e":14,"l":0.12},{"s":"w=5","e":15,"l":0.13},{"s":"w=5","e":16,"l":0.12},{"s":"w=5","e":17,"l":0.13},{"s":"w=5","e":18,"l":0.15},{"s":"w=5","e":19,"l":0.1},{"s":"w=5","e":20,"l":0.1},{"s":"w=5","e":21,"l":0.12},{"s":"w=5","e":22,"l":0.09},{"s":"w=5","e":23,"l":0.09},{"s":"w=5","e":24,"l":0.09},{"s":"w=5","e":25,"l":0.07},{"s":"w=5","e":26,"l":0.08},{"s":"w=5","e":27,"l":0.09},{"s":"w=5","e":28,"l":0.09},{"s":"w=5","e":29,"l":0.1},{"s":"w=5","e":30,"l":0.1},{"s":"w=5","e":31,"l":0.04},{"s":"w=5","e":32,"l":0.05},{"s":"w=5","e":33,"l":0.08},{"s":"w=5","e":34,"l":0.05},{"s":"w=5","e":35,"l":0.05},{"s":"w=5","e":36,"l":0.11},{"s":"w=5","e":37,"l":0.07},{"s":"w=5","e":38,"l":0.05},{"s":"w=5","e":39,"l":0.06},{"s":"w=5","e":40,"l":0.04},{"s":"w=5","e":41,"l":0.05},{"s":"w=5","e":42,"l":0.06},{"s":"w=5","e":43,"l":0.12},{"s":"w=5","e":44,"l":0.04},{"s":"w=5","e":45,"l":0.04},{"s":"w=5","e":46,"l":0.05},{"s":"w=5","e":47,"l":0.045},{"s":"w=5","e":48,"l":0.05},{"s":"w=5","e":49,"l":0.055},{"s":"w=5","e":50,"l":0.05}
],
"h":[
{"s":"w=0","e":1,"l":0.43},{"s":"w=0","e":2,"l":0.32},{"s":"w=0","e":3,"l":0.27},{"s":"w=0","e":4,"l":0.24},{"s":"w=0","e":5,"l":0.22},{"s":"w=0","e":6,"l":0.2},{"s":"w=0","e":7,"l":0.18},{"s":"w=0","e":8,"l":0.15},{"s":"w=0","e":9,"l":0.145},{"s":"w=0","e":10,"l":0.14},{"s":"w=0","e":11,"l":0.12},{"s":"w=0","e":12,"l":0.105},{"s":"w=0","e":13,"l":0.1},{"s":"w=0","e":14,"l":0.095},{"s":"w=0","e":15,"l":0.095},{"s":"w=0","e":16,"l":0.085},{"s":"w=0","e":17,"l":0.075},{"s":"w=0","e":18,"l":0.085},{"s":"w=0","e":19,"l":0.07},{"s":"w=0","e":20,"l":0.062},{"s":"w=0","e":22,"l":0.06},{"s":"w=0","e":23,"l":0.058},{"s":"w=0","e":24,"l":0.05},{"s":"w=0","e":26,"l":0.05},{"s":"w=0","e":27,"l":0.048},{"s":"w=0","e":28,"l":0.04},{"s":"w=0","e":29,"l":0.042},{"s":"w=0","e":30,"l":0.038},{"s":"w=0","e":32,"l":0.035},{"s":"w=0","e":34,"l":0.035},{"s":"w=0","e":35,"l":0.03},{"s":"w=0","e":37,"l":0.028},{"s":"w=0","e":39,"l":0.025},{"s":"w=0","e":40,"l":0.022},{"s":"w=0","e":42,"l":0.02},{"s":"w=0","e":44,"l":0.018},{"s":"w=0","e":46,"l":0.016},{"s":"w=0","e":48,"l":0.013},{"s":"w=0","e":50,"l":0.013},
{"s":"w=5","e":1,"l":0.44},{"s":"w=5","e":2,"l":0.15},{"s":"w=5","e":3,"l":0.06},{"s":"w=5","e":4,"l":0.03},{"s":"w=5","e":5,"l":0.02},{"s":"w=5","e":6,"l":0.015},{"s":"w=5","e":8,"l":0.01},{"s":"w=5","e":10,"l":0.007},{"s":"w=5","e":15,"l":0.005},{"s":"w=5","e":20,"l":0.003},{"s":"w=5","e":30,"l":0.002},{"s":"w=5","e":50,"l":0.001},
{"s":"w=10","e":1,"l":0.42},{"s":"w=10","e":2,"l":0.14},{"s":"w=10","e":3,"l":0.055},{"s":"w=10","e":4,"l":0.03},{"s":"w=10","e":5,"l":0.02},{"s":"w=10","e":6,"l":0.015},{"s":"w=10","e":8,"l":0.01},{"s":"w=10","e":10,"l":0.007},{"s":"w=10","e":15,"l":0.005},{"s":"w=10","e":20,"l":0.003},{"s":"w=10","e":30,"l":0.002},{"s":"w=10","e":50,"l":0.001},
{"s":"w=15","e":1,"l":0.465},{"s":"w=15","e":2,"l":0.15},{"s":"w=15","e":3,"l":0.06},{"s":"w=15","e":4,"l":0.032},{"s":"w=15","e":5,"l":0.022},{"s":"w=15","e":6,"l":0.016},{"s":"w=15","e":8,"l":0.011},{"s":"w=15","e":10,"l":0.008},{"s":"w=15","e":15,"l":0.005},{"s":"w=15","e":20,"l":0.003},{"s":"w=15","e":30,"l":0.002},{"s":"w=15","e":50,"l":0.001},
{"s":"w=20","e":1,"l":0.43},{"s":"w=20","e":2,"l":0.15},{"s":"w=20","e":3,"l":0.06},{"s":"w=20","e":4,"l":0.03},{"s":"w=20","e":5,"l":0.02},{"s":"w=20","e":6,"l":0.015},{"s":"w=20","e":8,"l":0.01},{"s":"w=20","e":10,"l":0.007},{"s":"w=20","e":15,"l":0.005},{"s":"w=20","e":20,"l":0.003},{"s":"w=20","e":30,"l":0.002},{"s":"w=20","e":50,"l":0.001},
{"s":"w=30","e":1,"l":0.44},{"s":"w=30","e":2,"l":0.16},{"s":"w=30","e":3,"l":0.065},{"s":"w=30","e":4,"l":0.035},{"s":"w=30","e":5,"l":0.022},{"s":"w=30","e":6,"l":0.016},{"s":"w=30","e":8,"l":0.011},{"s":"w=30","e":10,"l":0.008},{"s":"w=30","e":15,"l":0.005},{"s":"w=30","e":20,"l":0.004},{"s":"w=30","e":30,"l":0.002},{"s":"w=30","e":50,"l":0.001},
{"s":"w=40","e":1,"l":0.42},{"s":"w=40","e":2,"l":0.16},{"s":"w=40","e":3,"l":0.07},{"s":"w=40","e":4,"l":0.035},{"s":"w=40","e":5,"l":0.024},{"s":"w=40","e":6,"l":0.018},{"s":"w=40","e":8,"l":0.012},{"s":"w=40","e":10,"l":0.008},{"s":"w=40","e":15,"l":0.005},{"s":"w=40","e":20,"l":0.004},{"s":"w=40","e":30,"l":0.002},{"s":"w=40","e":50,"l":0.002}
],
"i":[
{"s":"w=0","e":1,"l":0.7},{"s":"w=0","e":2,"l":0.45},{"s":"w=0","e":3,"l":0.42},{"s":"w=0","e":4,"l":0.43},{"s":"w=0","e":5,"l":0.35},{"s":"w=0","e":6,"l":0.26},{"s":"w=0","e":7,"l":0.23},{"s":"w=0","e":8,"l":0.18},{"s":"w=0","e":9,"l":0.2},{"s":"w=0","e":10,"l":0.15},{"s":"w=0","e":11,"l":0.16},{"s":"w=0","e":12,"l":0.12},{"s":"w=0","e":13,"l":0.16},{"s":"w=0","e":14,"l":0.12},{"s":"w=0","e":15,"l":0.14},{"s":"w=0","e":16,"l":0.12},{"s":"w=0","e":17,"l":0.1},{"s":"w=0","e":18,"l":0.1},{"s":"w=0","e":19,"l":0.08},{"s":"w=0","e":20,"l":0.07},{"s":"w=0","e":22,"l":0.07},{"s":"w=0","e":23,"l":0.05},{"s":"w=0","e":25,"l":0.05},{"s":"w=0","e":27,"l":0.05},{"s":"w=0","e":29,"l":0.04},{"s":"w=0","e":30,"l":0.03},{"s":"w=0","e":31,"l":0.08},{"s":"w=0","e":32,"l":0.06},{"s":"w=0","e":33,"l":0.04},{"s":"w=0","e":34,"l":0.05},{"s":"w=0","e":35,"l":0.03},{"s":"w=0","e":37,"l":0.03},{"s":"w=0","e":38,"l":0.04},{"s":"w=0","e":40,"l":0.03},{"s":"w=0","e":41,"l":0.02},{"s":"w=0","e":43,"l":0.03},{"s":"w=0","e":44,"l":0.03},{"s":"w=0","e":45,"l":0.08},{"s":"w=0","e":46,"l":0.04},{"s":"w=0","e":47,"l":0.02},{"s":"w=0","e":48,"l":0.02},{"s":"w=0","e":50,"l":0.02},
{"s":"w=5","e":1,"l":1.09},{"s":"w=5","e":2,"l":0.6},{"s":"w=5","e":3,"l":0.35},{"s":"w=5","e":4,"l":0.3},{"s":"w=5","e":5,"l":0.22},{"s":"w=5","e":6,"l":0.15},{"s":"w=5","e":7,"l":0.12},{"s":"w=5","e":8,"l":0.15},{"s":"w=5","e":9,"l":0.1},{"s":"w=5","e":10,"l":0.08},{"s":"w=5","e":12,"l":0.07},{"s":"w=5","e":14,"l":0.06},{"s":"w=5","e":16,"l":0.04},{"s":"w=5","e":18,"l":0.03},{"s":"w=5","e":20,"l":0.02},{"s":"w=5","e":25,"l":0.02},{"s":"w=5","e":30,"l":0.02},{"s":"w=5","e":35,"l":0.01},{"s":"w=5","e":40,"l":0.01},{"s":"w=5","e":50,"l":0.01},
{"s":"w=10","e":1,"l":0.95},{"s":"w=10","e":2,"l":0.55},{"s":"w=10","e":3,"l":0.33},{"s":"w=10","e":4,"l":0.28},{"s":"w=10","e":5,"l":0.22},{"s":"w=10","e":6,"l":0.15},{"s":"w=10","e":7,"l":0.12},{"s":"w=10","e":8,"l":0.14},{"s":"w=10","e":9,"l":0.1},{"s":"w=10","e":10,"l":0.09},{"s":"w=10","e":11,"l":0.1},{"s":"w=10","e":12,"l":0.07},{"s":"w=10","e":13,"l":0.09},{"s":"w=10","e":14,"l":0.05},{"s":"w=10","e":16,"l":0.05},{"s":"w=10","e":18,"l":0.05},{"s":"w=10","e":20,"l":0.07},{"s":"w=10","e":22,"l":0.03},{"s":"w=10","e":25,"l":0.02},{"s":"w=10","e":30,"l":0.02},{"s":"w=10","e":40,"l":0.015},{"s":"w=10","e":50,"l":0.01},
{"s":"w=15","e":1,"l":1.09},{"s":"w=15","e":2,"l":0.55},{"s":"w=15","e":3,"l":0.3},{"s":"w=15","e":4,"l":0.3},{"s":"w=15","e":5,"l":0.2},{"s":"w=15","e":6,"l":0.12},{"s":"w=15","e":7,"l":0.08},{"s":"w=15","e":8,"l":0.07},{"s":"w=15","e":10,"l":0.07},{"s":"w=15","e":12,"l":0.06},{"s":"w=15","e":14,"l":0.05},{"s":"w=15","e":16,"l":0.03},{"s":"w=15","e":18,"l":0.02},{"s":"w=15","e":20,"l":0.02},{"s":"w=15","e":25,"l":0.02},{"s":"w=15","e":30,"l":0.03},{"s":"w=15","e":35,"l":0.01},{"s":"w=15","e":40,"l":0.01},{"s":"w=15","e":50,"l":0.005},
{"s":"w=20","e":1,"l":0.76},{"s":"w=20","e":2,"l":0.5},{"s":"w=20","e":3,"l":0.35},{"s":"w=20","e":4,"l":0.28},{"s":"w=20","e":5,"l":0.2},{"s":"w=20","e":6,"l":0.14},{"s":"w=20","e":7,"l":0.12},{"s":"w=20","e":8,"l":0.12},{"s":"w=20","e":9,"l":0.1},{"s":"w=20","e":10,"l":0.08},{"s":"w=20","e":12,"l":0.06},{"s":"w=20","e":14,"l":0.05},{"s":"w=20","e":16,"l":0.04},{"s":"w=20","e":18,"l":0.03},{"s":"w=20","e":20,"l":0.03},{"s":"w=20","e":25,"l":0.02},{"s":"w=20","e":30,"l":0.02},{"s":"w=20","e":40,"l":0.02},{"s":"w=20","e":50,"l":0.02},
{"s":"w=30","e":1,"l":0.72},{"s":"w=30","e":2,"l":0.5},{"s":"w=30","e":3,"l":0.28},{"s":"w=30","e":4,"l":0.32},{"s":"w=30","e":5,"l":0.25},{"s":"w=30","e":6,"l":0.15},{"s":"w=30","e":7,"l":0.13},{"s":"w=30","e":8,"l":0.14},{"s":"w=30","e":9,"l":0.1},{"s":"w=30","e":10,"l":0.07},{"s":"w=30","e":11,"l":0.08},{"s":"w=30","e":12,"l":0.05},{"s":"w=30","e":13,"l":0.04},{"s":"w=30","e":14,"l":0.1},{"s":"w=30","e":15,"l":0.04},{"s":"w=30","e":16,"l":0.03},{"s":"w=30","e":18,"l":0.02},{"s":"w=30","e":20,"l":0.02},{"s":"w=30","e":25,"l":0.02},{"s":"w=30","e":30,"l":0.01},{"s":"w=30","e":40,"l":0.01},{"s":"w=30","e":50,"l":0.01},
{"s":"w=40","e":1,"l":0.95},{"s":"w=40","e":2,"l":0.5},{"s":"w=40","e":3,"l":0.3},{"s":"w=40","e":4,"l":0.25},{"s":"w=40","e":5,"l":0.2},{"s":"w=40","e":6,"l":0.1},{"s":"w=40","e":7,"l":0.14},{"s":"w=40","e":8,"l":0.12},{"s":"w=40","e":9,"l":0.08},{"s":"w=40","e":10,"l":0.07},{"s":"w=40","e":12,"l":0.05},{"s":"w=40","e":14,"l":0.04},{"s":"w=40","e":16,"l":0.04},{"s":"w=40","e":18,"l":0.03},{"s":"w=40","e":20,"l":0.04},{"s":"w=40","e":21,"l":0.1},{"s":"w=40","e":22,"l":0.06},{"s":"w=40","e":24,"l":0.02},{"s":"w=40","e":26,"l":0.03},{"s":"w=40","e":28,"l":0.04},{"s":"w=40","e":30,"l":0.02},{"s":"w=40","e":35,"l":0.02},{"s":"w=40","e":42,"l":0.03},{"s":"w=40","e":45,"l":0.02},{"s":"w=40","e":50,"l":0.01}
],
"j":[
{"s":"w=0","e":1,"l":0.85},{"s":"w=0","e":2,"l":0.6},{"s":"w=0","e":3,"l":0.35},{"s":"w=0","e":4,"l":0.25},{"s":"w=0","e":5,"l":0.2},{"s":"w=0","e":6,"l":0.15},{"s":"w=0","e":7,"l":0.12},{"s":"w=0","e":8,"l":0.09},{"s":"w=0","e":9,"l":0.08},{"s":"w=0","e":10,"l":0.07},{"s":"w=0","e":12,"l":0.05},{"s":"w=0","e":14,"l":0.04},{"s":"w=0","e":16,"l":0.03},{"s":"w=0","e":20,"l":0.025},{"s":"w=0","e":25,"l":0.02},{"s":"w=0","e":30,"l":0.015},{"s":"w=0","e":40,"l":0.01},{"s":"w=0","e":50,"l":0.008},
{"s":"w=5","e":1,"l":0.78},{"s":"w=5","e":2,"l":0.38},{"s":"w=5","e":3,"l":0.22},{"s":"w=5","e":4,"l":0.17},{"s":"w=5","e":5,"l":0.11},{"s":"w=5","e":6,"l":0.09},{"s":"w=5","e":7,"l":0.08},{"s":"w=5","e":8,"l":0.07},{"s":"w=5","e":9,"l":0.06},{"s":"w=5","e":10,"l":0.04},{"s":"w=5","e":12,"l":0.035},{"s":"w=5","e":14,"l":0.025},{"s":"w=5","e":16,"l":0.02},{"s":"w=5","e":20,"l":0.015},{"s":"w=5","e":25,"l":0.01},{"s":"w=5","e":30,"l":0.01},{"s":"w=5","e":40,"l":0.008},{"s":"w=5","e":50,"l":0.006},
{"s":"w=10","e":1,"l":0.84},{"s":"w=10","e":2,"l":0.5},{"s":"w=10","e":3,"l":0.35},{"s":"w=10","e":4,"l":0.22},{"s":"w=10","e":5,"l":0.2},{"s":"w=10","e":6,"l":0.15},{"s":"w=10","e":7,"l":0.1},{"s":"w=10","e":8,"l":0.1},{"s":"w=10","e":9,"l":0.12},{"s":"w=10","e":10,"l":0.08},{"s":"w=10","e":11,"l":0.06},{"s":"w=10","e":12,"l":0.05},{"s":"w=10","e":14,"l":0.04},{"s":"w=10","e":17,"l":0.03},{"s":"w=10","e":18,"l":0.035},{"s":"w=10","e":20,"l":0.025},{"s":"w=10","e":25,"l":0.02},{"s":"w=10","e":30,"l":0.015},{"s":"w=10","e":40,"l":0.01},{"s":"w=10","e":50,"l":0.008},
{"s":"w=15","e":1,"l":0.86},{"s":"w=15","e":2,"l":0.45},{"s":"w=15","e":3,"l":0.3},{"s":"w=15","e":4,"l":0.22},{"s":"w=15","e":5,"l":0.16},{"s":"w=15","e":6,"l":0.1},{"s":"w=15","e":7,"l":0.08},{"s":"w=15","e":8,"l":0.07},{"s":"w=15","e":9,"l":0.06},{"s":"w=15","e":10,"l":0.04},{"s":"w=15","e":12,"l":0.04},{"s":"w=15","e":14,"l":0.03},{"s":"w=15","e":16,"l":0.025},{"s":"w=15","e":20,"l":0.02},{"s":"w=15","e":25,"l":0.015},{"s":"w=15","e":30,"l":0.01},{"s":"w=15","e":40,"l":0.008},{"s":"w=15","e":50,"l":0.006},
{"s":"w=20","e":1,"l":0.66},{"s":"w=20","e":2,"l":0.5},{"s":"w=20","e":3,"l":0.32},{"s":"w=20","e":4,"l":0.25},{"s":"w=20","e":5,"l":0.2},{"s":"w=20","e":6,"l":0.18},{"s":"w=20","e":7,"l":0.12},{"s":"w=20","e":8,"l":0.1},{"s":"w=20","e":9,"l":0.1},{"s":"w=20","e":10,"l":0.09},{"s":"w=20","e":11,"l":0.07},{"s":"w=20","e":12,"l":0.05},{"s":"w=20","e":13,"l":0.05},{"s":"w=20","e":14,"l":0.04},{"s":"w=20","e":16,"l":0.03},{"s":"w=20","e":20,"l":0.025},{"s":"w=20","e":25,"l":0.02},{"s":"w=20","e":28,"l":0.02},{"s":"w=20","e":30,"l":0.015},{"s":"w=20","e":40,"l":0.01},{"s":"w=20","e":50,"l":0.008},
{"s":"w=30","e":1,"l":0.87},{"s":"w=30","e":2,"l":0.6},{"s":"w=30","e":3,"l":0.32},{"s":"w=30","e":4,"l":0.3},{"s":"w=30","e":5,"l":0.22},{"s":"w=30","e":6,"l":0.19},{"s":"w=30","e":7,"l":0.19},{"s":"w=30","e":8,"l":0.1},{"s":"w=30","e":9,"l":0.1},{"s":"w=30","e":10,"l":0.08},{"s":"w=30","e":11,"l":0.05},{"s":"w=30","e":12,"l":0.04},{"s":"w=30","e":14,"l":0.04},{"s":"w=30","e":16,"l":0.03},{"s":"w=30","e":20,"l":0.025},{"s":"w=30","e":25,"l":0.02},{"s":"w=30","e":30,"l":0.015},{"s":"w=30","e":40,"l":0.01},{"s":"w=30","e":50,"l":0.008},
{"s":"w=40","e":1,"l":0.62},{"s":"w=40","e":2,"l":0.5},{"s":"w=40","e":3,"l":0.3},{"s":"w=40","e":4,"l":0.25},{"s":"w=40","e":5,"l":0.22},{"s":"w=40","e":6,"l":0.16},{"s":"w=40","e":7,"l":0.12},{"s":"w=40","e":8,"l":0.08},{"s":"w=40","e":9,"l":0.09},{"s":"w=40","e":10,"l":0.07},{"s":"w=40","e":11,"l":0.06},{"s":"w=40","e":12,"l":0.05},{"s":"w=40","e":14,"l":0.04},{"s":"w=40","e":16,"l":0.03},{"s":"w=40","e":20,"l":0.025},{"s":"w=40","e":25,"l":0.02},{"s":"w=40","e":30,"l":0.015},{"s":"w=40","e":34,"l":0.015},{"s":"w=40","e":40,"l":0.01},{"s":"w=40","e":50,"l":0.008}
],
"k":[
{"s":"w=0","e":1,"l":0.55},{"s":"w=0","e":2,"l":0.3},{"s":"w=0","e":3,"l":0.15},{"s":"w=0","e":4,"l":0.12},{"s":"w=0","e":5,"l":0.11},{"s":"w=0","e":6,"l":0.08},{"s":"w=0","e":7,"l":0.05},{"s":"w=0","e":8,"l":0.05},{"s":"w=0","e":9,"l":0.045},{"s":"w=0","e":10,"l":0.04},{"s":"w=0","e":11,"l":0.035},{"s":"w=0","e":12,"l":0.03},{"s":"w=0","e":14,"l":0.025},{"s":"w=0","e":15,"l":0.025},{"s":"w=0","e":17,"l":0.02},{"s":"w=0","e":20,"l":0.015},{"s":"w=0","e":25,"l":0.012},{"s":"w=0","e":30,"l":0.01},{"s":"w=0","e":40,"l":0.008},{"s":"w=0","e":50,"l":0.005},
{"s":"w=5","e":1,"l":0.5},{"s":"w=5","e":2,"l":0.12},{"s":"w=5","e":3,"l":0.07},{"s":"w=5","e":4,"l":0.03},{"s":"w=5","e":5,"l":0.03},{"s":"w=5","e":6,"l":0.02},{"s":"w=5","e":8,"l":0.015},{"s":"w=5","e":10,"l":0.01},{"s":"w=5","e":15,"l":0.008},{"s":"w=5","e":20,"l":0.005},{"s":"w=5","e":30,"l":0.004},{"s":"w=5","e":50,"l":0.003},
{"s":"w=10","e":1,"l":0.47},{"s":"w=10","e":2,"l":0.2},{"s":"w=10","e":3,"l":0.08},{"s":"w=10","e":4,"l":0.06},{"s":"w=10","e":5,"l":0.05},{"s":"w=10","e":6,"l":0.03},{"s":"w=10","e":7,"l":0.035},{"s":"w=10","e":8,"l":0.03},{"s":"w=10","e":10,"l":0.015},{"s":"w=10","e":12,"l":0.01},{"s":"w=10","e":15,"l":0.008},{"s":"w=10","e":20,"l":0.006},{"s":"w=10","e":30,"l":0.005},{"s":"w=10","e":50,"l":0.004},
{"s":"w=15","e":1,"l":0.56},{"s":"w=15","e":2,"l":0.3},{"s":"w=15","e":3,"l":0.15},{"s":"w=15","e":4,"l":0.13},{"s":"w=15","e":5,"l":0.1},{"s":"w=15","e":6,"l":0.09},{"s":"w=15","e":7,"l":0.05},{"s":"w=15","e":8,"l":0.05},{"s":"w=15","e":9,"l":0.04},{"s":"w=15","e":10,"l":0.06},{"s":"w=15","e":11,"l":0.06},{"s":"w=15","e":12,"l":0.055},{"s":"w=15","e":13,"l":0.025},{"s":"w=15","e":14,"l":0.02},{"s":"w=15","e":15,"l":0.025},{"s":"w=15","e":16,"l":0.02},{"s":"w=15","e":18,"l":0.015},{"s":"w=15","e":20,"l":0.012},{"s":"w=15","e":25,"l":0.01},{"s":"w=15","e":30,"l":0.008},{"s":"w=15","e":40,"l":0.005},{"s":"w=15","e":50,"l":0.005},
{"s":"w=20","e":1,"l":0.65},{"s":"w=20","e":2,"l":0.31},{"s":"w=20","e":3,"l":0.28},{"s":"w=20","e":4,"l":0.19},{"s":"w=20","e":5,"l":0.2},{"s":"w=20","e":6,"l":0.17},{"s":"w=20","e":7,"l":0.2},{"s":"w=20","e":8,"l":0.17},{"s":"w=20","e":9,"l":0.14},{"s":"w=20","e":10,"l":0.08},{"s":"w=20","e":11,"l":0.1},{"s":"w=20","e":12,"l":0.07},{"s":"w=20","e":13,"l":0.075},{"s":"w=20","e":14,"l":0.055},{"s":"w=20","e":15,"l":0.05},{"s":"w=20","e":16,"l":0.05},{"s":"w=20","e":17,"l":0.05},{"s":"w=20","e":18,"l":0.045},{"s":"w=20","e":19,"l":0.04},{"s":"w=20","e":20,"l":0.04},{"s":"w=20","e":21,"l":0.04},{"s":"w=20","e":22,"l":0.035},{"s":"w=20","e":23,"l":0.035},{"s":"w=20","e":24,"l":0.03},{"s":"w=20","e":25,"l":0.04},{"s":"w=20","e":26,"l":0.05},{"s":"w=20","e":27,"l":0.025},{"s":"w=20","e":28,"l":0.03},{"s":"w=20","e":29,"l":0.02},{"s":"w=20","e":30,"l":0.015},{"s":"w=20","e":31,"l":0.02},{"s":"w=20","e":32,"l":0.015},{"s":"w=20","e":34,"l":0.015},{"s":"w=20","e":36,"l":0.02},{"s":"w=20","e":37,"l":0.012},{"s":"w=20","e":39,"l":0.015},{"s":"w=20","e":40,"l":0.012},{"s":"w=20","e":42,"l":0.01},{"s":"w=20","e":45,"l":0.008},{"s":"w=20","e":48,"l":0.006},{"s":"w=20","e":50,"l":0.006}
],
"l":[
{"s":"w=5","e":1,"l":0.65},{"s":"w=5","e":2,"l":0.57},{"s":"w=5","e":3,"l":0.52},{"s":"w=5","e":4,"l":0.48},{"s":"w=5","e":5,"l":0.43},{"s":"w=5","e":6,"l":0.4},{"s":"w=5","e":7,"l":0.34},{"s":"w=5","e":8,"l":0.31},{"s":"w=5","e":9,"l":0.27},{"s":"w=5","e":10,"l":0.25},{"s":"w=5","e":11,"l":0.22},{"s":"w=5","e":12,"l":0.2},{"s":"w=5","e":13,"l":0.18},{"s":"w=5","e":14,"l":0.17},{"s":"w=5","e":15,"l":0.15},{"s":"w=5","e":16,"l":0.14},{"s":"w=5","e":17,"l":0.12},{"s":"w=5","e":18,"l":0.11},{"s":"w=5","e":19,"l":0.095},{"s":"w=5","e":20,"l":0.09},{"s":"w=5","e":21,"l":0.085},{"s":"w=5","e":22,"l":0.08},{"s":"w=5","e":23,"l":0.07},{"s":"w=5","e":24,"l":0.065},{"s":"w=5","e":25,"l":0.06},{"s":"w=5","e":26,"l":0.055},{"s":"w=5","e":27,"l":0.055},{"s":"w=5","e":28,"l":0.05},{"s":"w=5","e":29,"l":0.045},{"s":"w=5","e":30,"l":0.04},{"s":"w=5","e":31,"l":0.04},{"s":"w=5","e":32,"l":0.035},{"s":"w=5","e":33,"l":0.035},{"s":"w=5","e":34,"l":0.032},{"s":"w=5","e":35,"l":0.03},{"s":"w=5","e":36,"l":0.03},{"s":"w=5","e":37,"l":0.028},{"s":"w=5","e":38,"l":0.027},{"s":"w=5","e":39,"l":0.025},{"s":"w=5","e":40,"l":0.022},{"s":"w=5","e":42,"l":0.02},{"s":"w=5","e":44,"l":0.02},{"s":"w=5","e":45,"l":0.02},{"s":"w=5","e":46,"l":0.016},{"s":"w=5","e":47,"l":0.013},{"s":"w=5","e":48,"l":0.012},{"s":"w=5","e":49,"l":0.015},{"s":"w=5","e":50,"l":0.01},
{"s":"w=0","e":1,"l":0.47},{"s":"w=0","e":2,"l":0.12},{"s":"w=0","e":3,"l":0.08},{"s":"w=0","e":4,"l":0.06},{"s":"w=0","e":5,"l":0.045},{"s":"w=0","e":6,"l":0.035},{"s":"w=0","e":7,"l":0.025},{"s":"w=0","e":8,"l":0.02},{"s":"w=0","e":9,"l":0.017},{"s":"w=0","e":10,"l":0.013},{"s":"w=0","e":11,"l":0.01},{"s":"w=0","e":12,"l":0.008},{"s":"w=0","e":14,"l":0.007},{"s":"w=0","e":16,"l":0.006},{"s":"w=0","e":18,"l":0.005},{"s":"w=0","e":20,"l":0.003},{"s":"w=0","e":25,"l":0.002},{"s":"w=0","e":30,"l":0.001},{"s":"w=0","e":40,"l":0.001},{"s":"w=0","e":50,"l":0.001}
],
"m":[
{"s":"w=0","e":1,"l":0.75},{"s":"w=0","e":2,"l":0.68},{"s":"w=0","e":3,"l":0.62},{"s":"w=0","e":4,"l":0.58},{"s":"w=0","e":5,"l":0.55},{"s":"w=0","e":6,"l":0.52},{"s":"w=0","e":7,"l":0.48},{"s":"w=0","e":8,"l":0.47},{"s":"w=0","e":9,"l":0.45},{"s":"w=0","e":10,"l":0.4},{"s":"w=0","e":11,"l":0.38},{"s":"w=0","e":12,"l":0.37},{"s":"w=0","e":13,"l":0.35},{"s":"w=0","e":14,"l":0.36},{"s":"w=0","e":15,"l":0.32},{"s":"w=0","e":16,"l":0.3},{"s":"w=0","e":17,"l":0.3},{"s":"w=0","e":18,"l":0.28},{"s":"w=0","e":19,"l":0.29},{"s":"w=0","e":20,"l":0.26},{"s":"w=0","e":21,"l":0.27},{"s":"w=0","e":22,"l":0.24},{"s":"w=0","e":23,"l":0.25},{"s":"w=0","e":24,"l":0.23},{"s":"w=0","e":25,"l":0.22},{"s":"w=0","e":26,"l":0.22},{"s":"w=0","e":27,"l":0.2},{"s":"w=0","e":28,"l":0.21},{"s":"w=0","e":29,"l":0.19},{"s":"w=0","e":30,"l":0.2},{"s":"w=0","e":31,"l":0.18},{"s":"w=0","e":32,"l":0.17},{"s":"w=0","e":33,"l":0.18},{"s":"w=0","e":34,"l":0.16},{"s":"w=0","e":35,"l":0.17},{"s":"w=0","e":36,"l":0.15},{"s":"w=0","e":37,"l":0.14},{"s":"w=0","e":38,"l":0.15},{"s":"w=0","e":39,"l":0.13},{"s":"w=0","e":40,"l":0.14},{"s":"w=0","e":41,"l":0.12},{"s":"w=0","e":42,"l":0.13},{"s":"w=0","e":43,"l":0.12},{"s":"w=0","e":44,"l":0.11},{"s":"w=0","e":45,"l":0.13},{"s":"w=0","e":46,"l":0.11},{"s":"w=0","e":47,"l":0.12},{"s":"w=0","e":48,"l":0.1},{"s":"w=0","e":49,"l":0.1},{"s":"w=0","e":50,"l":0.1},
{"s":"w=5","e":1,"l":0.8},{"s":"w=5","e":2,"l":0.35},{"s":"w=5","e":3,"l":0.15},{"s":"w=5","e":4,"l":0.08},{"s":"w=5","e":5,"l":0.06},{"s":"w=5","e":6,"l":0.04},{"s":"w=5","e":7,"l":0.02},{"s":"w=5","e":8,"l":0.05},{"s":"w=5","e":9,"l":0.04},{"s":"w=5","e":10,"l":0.06},{"s":"w=5","e":12,"l":0.05},{"s":"w=5","e":14,"l":0.04},{"s":"w=5","e":16,"l":0.04},{"s":"w=5","e":18,"l":0.03},{"s":"w=5","e":20,"l":0.03},{"s":"w=5","e":25,"l":0.02},{"s":"w=5","e":30,"l":0.02},{"s":"w=5","e":35,"l":0.015},{"s":"w=5","e":40,"l":0.01},{"s":"w=5","e":50,"l":0.01},
{"s":"w=10","e":1,"l":0.8},{"s":"w=10","e":2,"l":0.3},{"s":"w=10","e":3,"l":0.18},{"s":"w=10","e":4,"l":0.12},{"s":"w=10","e":5,"l":0.1},{"s":"w=10","e":6,"l":0.08},{"s":"w=10","e":7,"l":0.07},{"s":"w=10","e":8,"l":0.06},{"s":"w=10","e":10,"l":0.05},{"s":"w=10","e":12,"l":0.04},{"s":"w=10","e":15,"l":0.03},{"s":"w=10","e":20,"l":0.02},{"s":"w=10","e":25,"l":0.015},{"s":"w=10","e":30,"l":0.01},{"s":"w=10","e":40,"l":0.01},{"s":"w=10","e":50,"l":0.005},
{"s":"w=15","e":1,"l":0.82},{"s":"w=15","e":2,"l":0.28},{"s":"w=15","e":3,"l":0.15},{"s":"w=15","e":4,"l":0.1},{"s":"w=15","e":5,"l":0.08},{"s":"w=15","e":6,"l":0.06},{"s":"w=15","e":8,"l":0.05},{"s":"w=15","e":10,"l":0.04},{"s":"w=15","e":12,"l":0.03},{"s":"w=15","e":15,"l":0.025},{"s":"w=15","e":20,"l":0.02},{"s":"w=15","e":25,"l":0.015},{"s":"w=15","e":30,"l":0.01},{"s":"w=15","e":40,"l":0.01},{"s":"w=15","e":50,"l":0.005},
{"s":"w=20","e":1,"l":0.78},{"s":"w=20","e":2,"l":0.32},{"s":"w=20","e":3,"l":0.2},{"s":"w=20","e":4,"l":0.15},{"s":"w=20","e":5,"l":0.12},{"s":"w=20","e":6,"l":0.1},{"s":"w=20","e":7,"l":0.08},{"s":"w=20","e":8,"l":0.06},{"s":"w=20","e":9,"l":0.07},{"s":"w=20","e":10,"l":0.05},{"s":"w=20","e":12,"l":0.06},{"s":"w=20","e":14,"l":0.04},{"s":"w=20","e":16,"l":0.05},{"s":"w=20","e":18,"l":0.03},{"s":"w=20","e":20,"l":0.04},{"s":"w=20","e":22,"l":0.02},{"s":"w=20","e":24,"l":0.03},{"s":"w=20","e":26,"l":0.025},{"s":"w=20","e":28,"l":0.02},{"s":"w=20","e":30,"l":0.025},{"s":"w=20","e":32,"l":0.02},{"s":"w=20","e":35,"l":0.015},{"s":"w=20","e":38,"l":0.02},{"s":"w=20","e":40,"l":0.015},{"s":"w=20","e":42,"l":0.02},{"s":"w=20","e":45,"l":0.01},{"s":"w=20","e":48,"l":0.015},{"s":"w=20","e":50,"l":0.01},
{"s":"w=30","e":1,"l":0.84},{"s":"w=30","e":2,"l":0.3},{"s":"w=30","e":3,"l":0.17},{"s":"w=30","e":4,"l":0.12},{"s":"w=30","e":5,"l":0.08},{"s":"w=30","e":6,"l":0.07},{"s":"w=30","e":8,"l":0.05},{"s":"w=30","e":10,"l":0.04},{"s":"w=30","e":12,"l":0.035},{"s":"w=30","e":15,"l":0.03},{"s":"w=30","e":20,"l":0.025},{"s":"w=30","e":25,"l":0.02},{"s":"w=30","e":30,"l":0.015},{"s":"w=30","e":40,"l":0.01},{"s":"w=30","e":50,"l":0.008},
{"s":"w=40","e":1,"l":0.85},{"s":"w=40","e":2,"l":0.35},{"s":"w=40","e":3,"l":0.2},{"s":"w=40","e":4,"l":0.13},{"s":"w=40","e":5,"l":0.1},{"s":"w=40","e":6,"l":0.08},{"s":"w=40","e":8,"l":0.06},{"s":"w=40","e":10,"l":0.05},{"s":"w=40","e":12,"l":0.04},{"s":"w=40","e":15,"l":0.03},{"s":"w=40","e":20,"l":0.025},{"s":"w=40","e":25,"l":0.02},{"s":"w=40","e":30,"l":0.015},{"s":"w=40","e":40,"l":0.012},{"s":"w=40","e":50,"l":0.01}
],
"n":[
{"s":"w=0","e":1,"l":0.104},{"s":"w=0","e":2,"l":0.015},{"s":"w=0","e":3,"l":0.008},{"s":"w=0","e":4,"l":0.005},{"s":"w=0","e":5,"l":0.005},{"s":"w=0","e":6,"l":0.004},{"s":"w=0","e":8,"l":0.003},{"s":"w=0","e":10,"l":0.003},{"s":"w=0","e":12,"l":0.002},{"s":"w=0","e":15,"l":0.002},{"s":"w=0","e":20,"l":0.002},{"s":"w=0","e":25,"l":0.003},{"s":"w=0","e":29,"l":0.002},{"s":"w=0","e":30,"l":0.004},{"s":"w=0","e":31,"l":0.002},{"s":"w=0","e":35,"l":0.002},{"s":"w=0","e":39,"l":0.001},{"s":"w=0","e":40,"l":0.005},{"s":"w=0","e":41,"l":0.001},{"s":"w=0","e":45,"l":0.001},{"s":"w=0","e":50,"l":0.001},
{"s":"w=5","e":1,"l":0.09},{"s":"w=5","e":2,"l":0.01},{"s":"w=5","e":3,"l":0.005},{"s":"w=5","e":4,"l":0.004},{"s":"w=5","e":5,"l":0.003},{"s":"w=5","e":6,"l":0.004},{"s":"w=5","e":8,"l":0.002},{"s":"w=5","e":10,"l":0.002},{"s":"w=5","e":12,"l":0.002},{"s":"w=5","e":14,"l":0.007},{"s":"w=5","e":15,"l":0.002},{"s":"w=5","e":16,"l":0.001},{"s":"w=5","e":17,"l":0.005},{"s":"w=5","e":18,"l":0.001},{"s":"w=5","e":20,"l":0.002},{"s":"w=5","e":25,"l":0.001},{"s":"w=5","e":30,"l":0.002},{"s":"w=5","e":35,"l":0.001},{"s":"w=5","e":40,"l":0.002},{"s":"w=5","e":45,"l":0.001},{"s":"w=5","e":50,"l":0.001}
]
},
"resolve":{"scale":{"color":"independent"},"legend":{"color":"independent"}},
"spacing":0,
"vconcat":[
{"spacing":42,"resolve":{"scale":{"color":"independent"},"legend":{"color":"independent"}},
"hconcat":[
{"width":171,"height":110,"data":{"name":"a"},"mark":{"type":"line","strokeWidth":1.1},
"encoding":{"x":{"field":"e","type":"quantitative","scale":{"domain":[-1.45,52.45],"nice":false,"zero":false},"axis":{"values":[0,10,20,30,40,50],"title":"Epoch"}},
"y":{"field":"l","type":"quantitative","scale":{"domain":[-0.047,0.977],"nice":false,"zero":false},"axis":{"values":[0,0.2,0.4,0.6,0.8],"format":".1f","title":"Loss"}},
"color":{"field":"s","type":"nominal","scale":{"domain":["w=0","w=5","w=10","w=15","w=20","w=30"],"range":["#1f77b4","#ff7f0e","#2ca02c","#d62728","#9467bd","#8c564b"]},"legend":{"title":null}}},
"title":{"text":"(a) GunPoint","orient":"bottom","offset":2,"subtitle":" ","subtitlePadding":17}},
{"width":165,"height":110,"data":{"name":"b"},"mark":{"type":"line","strokeWidth":1.1},
"encoding":{"x":{"field":"e","type":"quantitative","scale":{"domain":[-1.45,52.45],"nice":false,"zero":false},"axis":{"values":[0,10,20,30,40,50],"title":"Epoch"}},
"y":{"field":"l","type":"quantitative","scale":{"domain":[-0.05,1.05],"nice":false,"zero":false},"axis":{"values":[0,0.2,0.4,0.6,0.8,1.0],"format":".1f","title":"Loss"}},
"color":{"field":"s","type":"nominal","scale":{"domain":["w=0","w=5","w=10","w=15","w=20","w=30","w=40","w=0 "],"range":["#1f77b4","#ff7f0e","#2ca02c","#d62728","#9467bd","#8c564b","#e377c2","#7f7f7f"]},"legend":{"title":null}}},
"title":{"text":"(b) Beef","orient":"bottom","offset":2,"subtitle":" ","subtitlePadding":17}},
{"width":174,"height":110,"data":{"name":"c"},"mark":{"type":"line","strokeWidth":1.1},
"encoding":{"x":{"field":"e","type":"quantitative","scale":{"domain":[-1.45,52.45],"nice":false,"zero":false},"axis":{"values":[0,10,20,30,40,50],"title":"Epoch"}},
"y":{"field":"l","type":"quantitative","scale":{"domain":[-0.026,0.556],"nice":false,"zero":false},"axis":{"values":[0,0.1,0.2,0.3,0.4,0.5],"format":".1f","title":"Loss"}},
"color":{"field":"s","type":"nominal","scale":{"domain":["w=0","w=5","w=10","w=12","w=20","w=30","w=40"],"range":["#1f77b4","#ff7f0e","#2ca02c","#d62728","#9467bd","#8c564b","#e377c2"]},"legend":{"title":null}}},
"title":{"text":"(c) Lightning7","orient":"bottom","offset":2,"subtitle":" ","subtitlePadding":17}}
]},
{"spacing":30,"resolve":{"scale":{"color":"independent"},"legend":{"color":"independent"}},
"hconcat":[
{"width":182,"height":116,"data":{"name":"d"},"mark":{"type":"line","strokeWidth":1.1},
"encoding":{"x":{"field":"e","type":"quantitative","scale":{"domain":[-1.45,52.45],"nice":false,"zero":false},"axis":{"values":[0,10,20,30,40,50],"title":"Epoch"}},
"y":{"field":"l","type":"quantitative","scale":{"domain":[-0.028,0.588],"nice":false,"zero":false},"axis":{"values":[0,0.1,0.2,0.3,0.4,0.5],"format":".1f","title":"Loss"}},
"color":{"field":"s","type":"nominal","scale":{"domain":["w=0","w=5","w=10","w=15","w=20","w=30","w=40"],"range":["#1f77b4","#ff7f0e","#2ca02c","#d62728","#9467bd","#8c564b","#e377c2"]},"legend":{"title":null}}},
"title":{"text":"(d) OSULeaf","orient":"bottom","offset":13,"subtitle":" ","subtitlePadding":9}},
{"width":176,"height":116,"data":{"name":"e"},"mark":{"type":"line","strokeWidth":1.1},
"encoding":{"x":{"field":"e","type":"quantitative","scale":{"domain":[-1.45,52.45],"nice":false,"zero":false},"axis":{"values":[0,10,20,30,40,50],"title":"Epoch"}},
"y":{"field":"l","type":"quantitative","scale":{"domain":[-0.06,1.23],"nice":false,"zero":false},"axis":{"values":[0,0.2,0.4,0.6,0.8,1.0,1.2],"format":".1f","title":"Loss"}},
"color":{"field":"s","type":"nominal","scale":{"domain":["w=0","w=5","w=10","w=15","w=20"],"range":["#1f77b4","#ff7f0e","#2ca02c","#d62728","#9467bd"]},"legend":{"title":null}}},
"title":{"text":"(e) CBF","orient":"bottom","offset":13,"subtitle":" ","subtitlePadding":9}},
{"width":171,"height":116,"data":{"name":"f"},"mark":{"type":"line","strokeWidth":1.1},
"encoding":{"x":{"field":"e","type":"quantitative","scale":{"domain":[-1.45,52.45],"nice":false,"zero":false},"axis":{"values":[0,10,20,30,40,50],"title":"Epoch"}},
"y":{"field":"l","type":"quantitative","scale":{"domain":[-0.063,1.32],"nice":false,"zero":false},"axis":{"values":[0,0.2,0.4,0.6,0.8,1.0,1.2],"format":".1f","title":"Loss"}},
"color":{"field":"s","type":"nominal","scale":{"domain":["w=0","w=5","w=10","w=15","w=20","w=30","w=40"],"range":["#1f77b4","#ff7f0e","#2ca02c","#d62728","#9467bd","#8c564b","#e377c2"]},"legend":{"title":null}}},
"title":{"text":"(f) Coffee","orient":"bottom","offset":13,"subtitle":" ","subtitlePadding":9}}
]},
{"spacing":25,"resolve":{"scale":{"color":"independent"},"legend":{"color":"independent"}},
"hconcat":[
{"width":190,"height":120,"data":{"name":"g"},"mark":{"type":"line","strokeWidth":1.1},
"encoding":{"x":{"field":"e","type":"quantitative","scale":{"domain":[-1.45,52.45],"nice":false,"zero":false},"axis":{"values":[0,10,20,30,40,50],"title":"Epoch"}},
"y":{"field":"l","type":"quantitative","scale":{"domain":[-0.072,1.502],"nice":false,"zero":false},"axis":{"values":[0,0.2,0.4,0.6,0.8,1.0,1.2,1.4],"format":".1f","title":"Loss"}},
"color":{"field":"s","type":"nominal","scale":{"domain":["w=0","w=5"],"range":["#1f77b4","#ff7f0e"]},"legend":{"title":null}}},
"title":{"text":"(g) ECG200","orient":"bottom","offset":14,"subtitle":" ","subtitlePadding":10}},
{"width":181,"height":120,"data":{"name":"h"},"mark":{"type":"line","strokeWidth":1.1},
"encoding":{"x":{"field":"e","type":"quantitative","scale":{"domain":[-1.45,52.45],"nice":false,"zero":false},"axis":{"values":[0,10,20,30,40,50],"title":"Epoch"}},
"y":{"field":"l","type":"quantitative","scale":{"domain":[-0.023,0.488],"nice":false,"zero":false},"axis":{"values":[0,0.1,0.2,0.3,0.4],"format":".1f","title":"Loss"}},
"color":{"field":"s","type":"nominal","scale":{"domain":["w=0","w=5","w=10","w=15","w=20","w=30","w=40"],"range":["#1f77b4","#ff7f0e","#2ca02c","#d62728","#9467bd","#8c564b","#e377c2"]},"legend":{"title":null}}},
"title":{"text":"(h) Fish","orient":"bottom","offset":14,"subtitle":" ","subtitlePadding":10}},
{"width":180,"height":120,"data":{"name":"i"},"mark":{"type":"line","strokeWidth":1.1},
"encoding":{"x":{"field":"e","type":"quantitative","scale":{"domain":[-1.45,52.45],"nice":false,"zero":false},"axis":{"values":[0,10,20,30,40,50],"title":"Epoch"}},
"y":{"field":"l","type":"quantitative","scale":{"domain":[-0.06,1.145],"nice":false,"zero":false},"axis":{"values":[0,0.2,0.4,0.6,0.8,1.0],"format":".1f","title":"Loss"}},
"color":{"field":"s","type":"nominal","scale":{"domain":["w=0","w=5","w=10","w=15","w=20","w=30","w=40"],"range":["#1f77b4","#ff7f0e","#2ca02c","#d62728","#9467bd","#8c564b","#e377c2"]},"legend":{"title":null}}},
"title":{"text":"(i) Lighting2","orient":"bottom","offset":14,"subtitle":" ","subtitlePadding":10}}
]},
{"spacing":20,"resolve":{"scale":{"color":"independent"},"legend":{"color":"independent"}},
"hconcat":[
{"width":197,"height":124,"data":{"name":"j"},"mark":{"type":"line","strokeWidth":1.1},
"encoding":{"x":{"field":"e","type":"quantitative","scale":{"domain":[-1.45,52.45],"nice":false,"zero":false},"axis":{"values":[0,10,20,30,40,50],"title":"Epoch"}},
"y":{"field":"l","type":"quantitative","scale":{"domain":[-0.044,0.91],"nice":false,"zero":false},"axis":{"values":[0,0.2,0.4,0.6,0.8],"format":".1f","title":"Loss"}},
"color":{"field":"s","type":"nominal","scale":{"domain":["w=0","w=5","w=10","w=15","w=20","w=30","w=40"],"range":["#1f77b4","#ff7f0e","#2ca02c","#d62728","#9467bd","#8c564b","#e377c2"]},"legend":{"title":null}}},
"title":{"text":"(j) OliveOil","orient":"bottom","offset":25}},
{"width":185,"height":124,"data":{"name":"k"},"mark":{"type":"line","strokeWidth":1.1},
"encoding":{"x":{"field":"e","type":"quantitative","scale":{"domain":[-1.45,52.45],"nice":false,"zero":false},"axis":{"values":[0,10,20,30,40,50],"title":"Epoch"}},
"y":{"field":"l","type":"quantitative","scale":{"domain":[-0.033,0.683],"nice":false,"zero":false},"axis":{"values":[0,0.1,0.2,0.3,0.4,0.5,0.6],"format":".1f","title":"Loss"}},
"color":{"field":"s","type":"nominal","scale":{"domain":["w=0","w=5","w=10","w=15","w=20"],"range":["#1f77b4","#ff7f0e","#2ca02c","#d62728","#9467bd"]},"legend":{"title":null}}},
"title":{"text":"(k) Trace","orient":"bottom","offset":25}},
{"width":190,"height":124,"data":{"name":"l"},"mark":{"type":"line","strokeWidth":1.1},
"encoding":{"x":{"field":"e","type":"quantitative","scale":{"domain":[-1.45,52.45],"nice":false,"zero":false},"axis":{"values":[0,10,20,30,40,50],"title":"Epoch"}},
"y":{"field":"l","type":"quantitative","scale":{"domain":[-0.032,0.682],"nice":false,"zero":false},"axis":{"values":[0,0.1,0.2,0.3,0.4,0.5,0.6],"format":".1f","title":"Loss"}},
"color":{"field":"s","type":"nominal","scale":{"domain":["w=5","w=0"],"range":["#1f77b4","#ff7f0e"]},"legend":{"title":null}}},
"title":{"text":"(l) TwoPatterns","orient":"bottom","offset":25}}
]},
{"spacing":23,"resolve":{"scale":{"color":"independent"},"legend":{"color":"independent"}},
"hconcat":[
{"width":191,"height":133,"data":{"name":"m"},"mark":{"type":"line","strokeWidth":1.1},
"encoding":{"x":{"field":"e","type":"quantitative","scale":{"domain":[-1.45,52.45],"nice":false,"zero":false},"axis":{"values":[0,10,20,30,40,50],"title":"Epoch"}},
"y":{"field":"l","type":"quantitative","scale":{"domain":[-0.043,0.893],"nice":false,"zero":false},"axis":{"values":[0,0.2,0.4,0.6,0.8],"format":".1f","title":"Loss"}},
"color":{"field":"s","type":"nominal","scale":{"domain":["w=0","w=5","w=10","w=15","w=20","w=30","w=40"],"range":["#1f77b4","#ff7f0e","#2ca02c","#d62728","#9467bd","#8c564b","#e377c2"]},"legend":{"title":null}}},
"title":{"text":"(m) Yoga","orient":"bottom","offset":14}},
{"width":185,"height":133,"data":{"name":"n"},"mark":{"type":"line","strokeWidth":1.1},
"encoding":{"x":{"field":"e","type":"quantitative","scale":{"domain":[-1.45,52.45],"nice":false,"zero":false},"axis":{"values":[0,10,20,30,40,50],"title":"Epoch"}},
"y":{"field":"l","type":"quantitative","scale":{"domain":[-0.0052,0.109],"nice":false,"zero":false},"axis":{"values":[0,0.02,0.04,0.06,0.08,0.1],"format":".2f","title":"Loss"}},
"color":{"field":"s","type":"nominal","scale":{"domain":["w=0","w=5"],"range":["#1f77b4","#ff7f0e"]},"legend":{"title":null}}},
"title":{"text":"(n) Wafer","orient":"bottom","offset":14}}
]}
]
}
